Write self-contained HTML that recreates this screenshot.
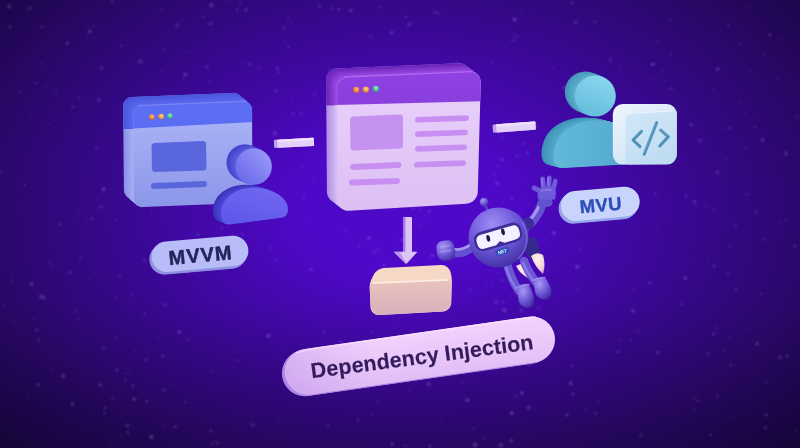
<!DOCTYPE html><html><head><meta charset="utf-8"><style>
html,body{margin:0;padding:0;width:800px;height:448px;overflow:hidden;background:#2a0c78}
svg{display:block}
text{font-family:"Liberation Sans",sans-serif;font-weight:bold}
</style></head><body>
<svg width="800" height="448" viewBox="0 0 800 448">
<defs>
<radialGradient id="bg" cx="402" cy="208" r="357.5" gradientUnits="userSpaceOnUse" gradientTransform="translate(402 208) scale(1.517 1) translate(-402 -208)">
<stop offset="0" stop-color="#4e08c8"/>
<stop offset="0.185" stop-color="#4e08c8"/>
<stop offset="0.3" stop-color="#4708b5"/>
<stop offset="0.45" stop-color="#3d089c"/>
<stop offset="0.6" stop-color="#330884"/>
<stop offset="0.75" stop-color="#2a086b"/>
<stop offset="0.9" stop-color="#200652"/>
<stop offset="1.0" stop-color="#1a0642"/>
</radialGradient>
<linearGradient id="bgB" x1="0" y1="300" x2="0" y2="448" gradientUnits="userSpaceOnUse"><stop offset="0" stop-color="#000" stop-opacity="0"/><stop offset="1" stop-color="#000" stop-opacity="0.177"/></linearGradient>
<filter id="blur1" x="-50%" y="-50%" width="200%" height="200%"><feGaussianBlur stdDeviation="0.8"/></filter>
<filter id="gblur" x="0" y="0" width="100%" height="100%" color-interpolation-filters="sRGB"><feGaussianBlur stdDeviation="0.5"/></filter>
<filter id="b04" x="-20%" y="-20%" width="140%" height="140%"><feGaussianBlur stdDeviation="0.4"/></filter>
<linearGradient id="lwBody" x1="0" y1="0" x2="0" y2="1"><stop offset="0.2" stop-color="#a8b0f6"/><stop offset="1" stop-color="#8c96e8"/></linearGradient>
<linearGradient id="lwHead" x1="0" y1="0" x2="0" y2="1"><stop offset="0" stop-color="#5c6ef4"/><stop offset="1" stop-color="#586af0"/></linearGradient>
<linearGradient id="mwBody" x1="0" y1="0" x2="0" y2="1"><stop offset="0" stop-color="#ead2fb"/><stop offset="1" stop-color="#dcbff4"/></linearGradient>
<linearGradient id="mwHead" x1="0" y1="0" x2="0" y2="1"><stop offset="0" stop-color="#8e42e2"/><stop offset="1" stop-color="#7a30d0"/></linearGradient>
<linearGradient id="box" x1="0" y1="0" x2="0" y2="1"><stop offset="0" stop-color="#e8c4bc"/><stop offset="1" stop-color="#d8b0bc"/></linearGradient>
<linearGradient id="code" x1="0" y1="0" x2="0.6" y2="1"><stop offset="0" stop-color="#d4e8f8"/><stop offset="1" stop-color="#bedcf2"/></linearGradient><linearGradient id="codeO" x1="0" y1="0" x2="0.8" y2="1"><stop offset="0" stop-color="#eef6fd"/><stop offset="0.5" stop-color="#dceaf8"/><stop offset="1" stop-color="#c8ddf2"/></linearGradient>
<linearGradient id="bhead" x1="1" y1="0" x2="0" y2="1"><stop offset="0" stop-color="#a0a0fa"/><stop offset="0.5" stop-color="#8080f2"/><stop offset="1" stop-color="#6462e6"/></linearGradient>
<linearGradient id="bbody" x1="0.8" y1="0" x2="0.2" y2="1"><stop offset="0" stop-color="#7068f2"/><stop offset="1" stop-color="#5e56ea"/></linearGradient>
<linearGradient id="thead" x1="0.7" y1="0" x2="0.3" y2="1"><stop offset="0" stop-color="#8ad6ee"/><stop offset="1" stop-color="#64bcdc"/></linearGradient>
<linearGradient id="tbody" x1="0" y1="0" x2="1" y2="0"><stop offset="0" stop-color="#62b8d8"/><stop offset="0.6" stop-color="#58aed2"/><stop offset="1" stop-color="#4a98c0"/></linearGradient>
<linearGradient id="di" x1="0" y1="0" x2="0" y2="1"><stop offset="0" stop-color="#f2d2fe"/><stop offset="1" stop-color="#e2bef7"/></linearGradient><linearGradient id="diH" x1="0" y1="0" x2="1" y2="0"><stop offset="0" stop-color="#a070d8" stop-opacity="0.32"/><stop offset="0.35" stop-color="#b080e0" stop-opacity="0"/><stop offset="1" stop-color="#ffffff" stop-opacity="0.05"/></linearGradient>
<radialGradient id="rhead" cx="0.4" cy="0.28" r="0.8"><stop offset="0" stop-color="#9e8ef4"/><stop offset="0.5" stop-color="#6e58da"/><stop offset="1" stop-color="#3c2a9a"/></radialGradient>
<linearGradient id="limb" x1="0" y1="0" x2="1" y2="0"><stop offset="0" stop-color="#5c48c8"/><stop offset="0.5" stop-color="#9a88ee"/><stop offset="1" stop-color="#5c48c8"/></linearGradient>
<radialGradient id="rball" cx="0.35" cy="0.3" r="0.8"><stop offset="0" stop-color="#a898f4"/><stop offset="0.6" stop-color="#6a54d4"/><stop offset="1" stop-color="#3e2c9a"/></radialGradient>
<radialGradient id="flame" cx="0.5" cy="0.3" r="0.7"><stop offset="0" stop-color="#fff4ee"/><stop offset="0.7" stop-color="#f4d0d8"/><stop offset="1" stop-color="#d8a8e0"/></radialGradient>
<radialGradient id="dotO" cx="0.55" cy="0.35" r="0.7"><stop offset="0" stop-color="#ffc080"/><stop offset="0.6" stop-color="#f0803e"/><stop offset="1" stop-color="#c85030"/></radialGradient>
<radialGradient id="dotY" cx="0.55" cy="0.35" r="0.7"><stop offset="0" stop-color="#ffd890"/><stop offset="0.6" stop-color="#f0a040"/><stop offset="1" stop-color="#c87030"/></radialGradient>
<radialGradient id="dotG" cx="0.55" cy="0.35" r="0.7"><stop offset="0" stop-color="#a0f0d0"/><stop offset="0.6" stop-color="#48c496"/><stop offset="1" stop-color="#2a9070"/></radialGradient>
</defs>
<g filter="url(#gblur)">
<rect x="-10" y="-10" width="820" height="468" fill="url(#bg)"/><rect x="-10" y="-10" width="820" height="468" fill="url(#bgB)"/>
<g filter="url(#blur1)">

<circle cx="259.1" cy="67.6" r="2.1" fill="#a488f0" opacity="0.11"/>
<circle cx="657.0" cy="42.2" r="1.8" fill="#a488f0" opacity="0.11"/>
<circle cx="405.9" cy="16.8" r="1.5" fill="#a488f0" opacity="0.20"/>
<circle cx="192.5" cy="246.9" r="0.9" fill="#a488f0" opacity="0.30"/>
<circle cx="99.0" cy="100.0" r="2.1" fill="#a488f0" opacity="0.24"/>
<circle cx="49.5" cy="262.3" r="0.9" fill="#a488f0" opacity="0.33"/>
<circle cx="37.3" cy="384.6" r="1.3" fill="#a488f0" opacity="0.20"/>
<circle cx="432.5" cy="255.8" r="1.8" fill="#a488f0" opacity="0.30"/>
<circle cx="144.6" cy="260.6" r="2.1" fill="#a488f0" opacity="0.15"/>
<circle cx="77.9" cy="319.0" r="1.8" fill="#a488f0" opacity="0.11"/>
<circle cx="164.8" cy="304.8" r="1.5" fill="#a488f0" opacity="0.29"/>
<circle cx="372.5" cy="413.7" r="1.3" fill="#a488f0" opacity="0.17"/>
<circle cx="635.5" cy="313.1" r="1.1" fill="#a488f0" opacity="0.12"/>
<circle cx="240.2" cy="221.8" r="1.3" fill="#a488f0" opacity="0.28"/>
<circle cx="230.4" cy="439.1" r="0.9" fill="#a488f0" opacity="0.22"/>
<circle cx="132.0" cy="153.2" r="1.5" fill="#a488f0" opacity="0.20"/>
<circle cx="769.6" cy="34.8" r="1.8" fill="#a488f0" opacity="0.24"/>
<circle cx="700.4" cy="140.6" r="2.1" fill="#a488f0" opacity="0.18"/>
<circle cx="397.3" cy="357.0" r="0.9" fill="#a488f0" opacity="0.30"/>
<circle cx="755.7" cy="212.4" r="2.1" fill="#a488f0" opacity="0.12"/>
<circle cx="584.9" cy="138.7" r="1.8" fill="#a488f0" opacity="0.34"/>
<circle cx="657.5" cy="127.5" r="1.5" fill="#a488f0" opacity="0.31"/>
<circle cx="277.6" cy="421.4" r="1.3" fill="#a488f0" opacity="0.14"/>
<circle cx="93.7" cy="26.4" r="1.3" fill="#a488f0" opacity="0.13"/>
<circle cx="198.1" cy="175.1" r="1.5" fill="#a488f0" opacity="0.12"/>
<circle cx="359.3" cy="246.1" r="1.1" fill="#a488f0" opacity="0.30"/>
<circle cx="691.2" cy="124.7" r="1.5" fill="#a488f0" opacity="0.34"/>
<circle cx="546.2" cy="170.4" r="1.1" fill="#a488f0" opacity="0.14"/>
<circle cx="141.0" cy="103.9" r="1.1" fill="#a488f0" opacity="0.10"/>
<circle cx="664.9" cy="81.7" r="1.3" fill="#a488f0" opacity="0.10"/>
<circle cx="335.2" cy="165.4" r="1.8" fill="#a488f0" opacity="0.18"/>
<circle cx="100.4" cy="384.9" r="1.8" fill="#a488f0" opacity="0.26"/>
<circle cx="591.8" cy="204.6" r="2.1" fill="#a488f0" opacity="0.29"/>
<circle cx="313.9" cy="178.7" r="0.9" fill="#a488f0" opacity="0.22"/>
<circle cx="320.4" cy="85.4" r="1.1" fill="#a488f0" opacity="0.21"/>
<circle cx="87.9" cy="269.1" r="0.9" fill="#a488f0" opacity="0.10"/>
<circle cx="121.0" cy="45.5" r="1.3" fill="#a488f0" opacity="0.25"/>
<circle cx="56.3" cy="93.2" r="1.5" fill="#a488f0" opacity="0.14"/>
<circle cx="201.8" cy="155.6" r="1.3" fill="#a488f0" opacity="0.21"/>
<circle cx="92.3" cy="218.7" r="1.5" fill="#a488f0" opacity="0.22"/>
<circle cx="249.5" cy="64.6" r="2.1" fill="#a488f0" opacity="0.18"/>
<circle cx="211.8" cy="371.3" r="1.1" fill="#a488f0" opacity="0.22"/>
<circle cx="164.2" cy="426.5" r="1.3" fill="#a488f0" opacity="0.14"/>
<circle cx="434.5" cy="12.1" r="1.8" fill="#a488f0" opacity="0.17"/>
<circle cx="514.3" cy="40.8" r="1.3" fill="#a488f0" opacity="0.22"/>
<circle cx="726.6" cy="159.4" r="1.1" fill="#a488f0" opacity="0.23"/>
<circle cx="623.2" cy="147.7" r="1.1" fill="#a488f0" opacity="0.25"/>
<circle cx="630.7" cy="339.7" r="1.1" fill="#a488f0" opacity="0.29"/>
<circle cx="654.7" cy="331.5" r="1.1" fill="#a488f0" opacity="0.15"/>
<circle cx="394.2" cy="327.5" r="0.9" fill="#a488f0" opacity="0.29"/>
<circle cx="377.8" cy="86.8" r="1.8" fill="#a488f0" opacity="0.33"/>
<circle cx="357.8" cy="419.8" r="1.3" fill="#a488f0" opacity="0.33"/>
<circle cx="291.7" cy="98.8" r="1.1" fill="#a488f0" opacity="0.21"/>
<circle cx="270.2" cy="216.2" r="1.8" fill="#a488f0" opacity="0.30"/>
<circle cx="383.6" cy="292.5" r="2.1" fill="#a488f0" opacity="0.12"/>
<circle cx="528.5" cy="407.6" r="2.1" fill="#a488f0" opacity="0.28"/>
<circle cx="382.4" cy="80.0" r="2.1" fill="#a488f0" opacity="0.18"/>
<circle cx="640.7" cy="435.3" r="1.5" fill="#a488f0" opacity="0.21"/>
<circle cx="594.7" cy="38.0" r="1.1" fill="#a488f0" opacity="0.14"/>
<circle cx="101.6" cy="67.7" r="1.5" fill="#a488f0" opacity="0.29"/>
<circle cx="116.9" cy="370.3" r="1.5" fill="#a488f0" opacity="0.26"/>
<circle cx="280.3" cy="245.8" r="1.1" fill="#a488f0" opacity="0.11"/>
<circle cx="639.5" cy="325.4" r="0.9" fill="#a488f0" opacity="0.23"/>
<circle cx="746.9" cy="194.3" r="1.1" fill="#a488f0" opacity="0.30"/>
<circle cx="168.8" cy="112.8" r="1.3" fill="#a488f0" opacity="0.22"/>
<circle cx="610.9" cy="146.0" r="1.8" fill="#a488f0" opacity="0.20"/>
<circle cx="104.9" cy="407.7" r="1.3" fill="#a488f0" opacity="0.32"/>
<circle cx="530.0" cy="365.1" r="1.8" fill="#a488f0" opacity="0.20"/>
<circle cx="734.2" cy="224.7" r="1.8" fill="#a488f0" opacity="0.14"/>
<circle cx="408.4" cy="391.0" r="1.1" fill="#a488f0" opacity="0.25"/>
<circle cx="620.8" cy="67.1" r="1.1" fill="#a488f0" opacity="0.21"/>
<circle cx="580.2" cy="249.3" r="1.3" fill="#a488f0" opacity="0.26"/>
<circle cx="424.6" cy="216.2" r="0.9" fill="#a488f0" opacity="0.31"/>
<circle cx="45.5" cy="85.7" r="0.9" fill="#a488f0" opacity="0.29"/>
<circle cx="406.2" cy="251.7" r="0.9" fill="#a488f0" opacity="0.21"/>
<circle cx="490.0" cy="226.5" r="1.8" fill="#a488f0" opacity="0.15"/>
<circle cx="221.7" cy="227.7" r="1.5" fill="#a488f0" opacity="0.22"/>
<circle cx="198.1" cy="234.4" r="1.3" fill="#a488f0" opacity="0.32"/>
<circle cx="714.2" cy="90.8" r="1.5" fill="#a488f0" opacity="0.13"/>
<circle cx="97.3" cy="198.1" r="0.9" fill="#a488f0" opacity="0.26"/>
<circle cx="342.7" cy="95.3" r="1.3" fill="#a488f0" opacity="0.29"/>
<circle cx="717.6" cy="69.2" r="2.1" fill="#a488f0" opacity="0.25"/>
<circle cx="292.9" cy="113.4" r="1.1" fill="#a488f0" opacity="0.33"/>
<circle cx="175.7" cy="426.7" r="1.5" fill="#a488f0" opacity="0.31"/>
<circle cx="130.2" cy="299.2" r="1.1" fill="#a488f0" opacity="0.14"/>
<circle cx="345.2" cy="231.0" r="1.3" fill="#a488f0" opacity="0.20"/>
<circle cx="285.3" cy="41.3" r="1.3" fill="#a488f0" opacity="0.10"/>
<circle cx="443.2" cy="197.3" r="0.9" fill="#a488f0" opacity="0.19"/>
<circle cx="413.9" cy="132.4" r="0.9" fill="#a488f0" opacity="0.13"/>
<circle cx="734.8" cy="102.4" r="0.9" fill="#a488f0" opacity="0.12"/>
<circle cx="217.5" cy="405.8" r="1.1" fill="#a488f0" opacity="0.16"/>
<circle cx="103.6" cy="189.2" r="2.1" fill="#a488f0" opacity="0.30"/>
<circle cx="206.9" cy="66.9" r="1.8" fill="#a488f0" opacity="0.24"/>
<circle cx="560.3" cy="40.1" r="0.9" fill="#a488f0" opacity="0.29"/>
<circle cx="146.7" cy="401.1" r="1.3" fill="#a488f0" opacity="0.33"/>
<circle cx="507.6" cy="359.1" r="0.9" fill="#a488f0" opacity="0.25"/>
<circle cx="177.9" cy="118.5" r="0.9" fill="#a488f0" opacity="0.21"/>
<circle cx="271.3" cy="247.8" r="1.3" fill="#a488f0" opacity="0.25"/>
<circle cx="34.6" cy="317.9" r="0.9" fill="#a488f0" opacity="0.33"/>
<circle cx="209.5" cy="81.2" r="1.3" fill="#a488f0" opacity="0.25"/>
<circle cx="424.9" cy="92.2" r="1.5" fill="#a488f0" opacity="0.22"/>
<circle cx="142.3" cy="155.5" r="0.9" fill="#a488f0" opacity="0.34"/>
<circle cx="29.6" cy="8.3" r="1.8" fill="#a488f0" opacity="0.23"/>
<circle cx="151.6" cy="212.7" r="1.5" fill="#a488f0" opacity="0.13"/>
<circle cx="655.1" cy="193.6" r="1.5" fill="#a488f0" opacity="0.23"/>
<circle cx="711.0" cy="434.7" r="1.3" fill="#a488f0" opacity="0.27"/>
<circle cx="786.0" cy="153.5" r="2.1" fill="#a488f0" opacity="0.27"/>
<circle cx="111.8" cy="443.3" r="0.9" fill="#a488f0" opacity="0.30"/>
<circle cx="11.4" cy="280.2" r="1.3" fill="#a488f0" opacity="0.20"/>
<circle cx="44.3" cy="298.0" r="1.5" fill="#a488f0" opacity="0.31"/>
<circle cx="536.4" cy="126.3" r="1.1" fill="#a488f0" opacity="0.27"/>
<circle cx="36.2" cy="83.0" r="1.3" fill="#a488f0" opacity="0.21"/>
<circle cx="210.6" cy="430.9" r="1.8" fill="#a488f0" opacity="0.18"/>
<circle cx="27.6" cy="395.3" r="1.1" fill="#a488f0" opacity="0.19"/>
<circle cx="0.9" cy="171.0" r="1.5" fill="#a488f0" opacity="0.17"/>
<circle cx="524.8" cy="111.2" r="0.9" fill="#a488f0" opacity="0.12"/>
<circle cx="653.6" cy="64.5" r="1.8" fill="#a488f0" opacity="0.11"/>
<circle cx="18.0" cy="136.3" r="1.1" fill="#a488f0" opacity="0.12"/>
<circle cx="766.1" cy="382.3" r="1.1" fill="#a488f0" opacity="0.26"/>
<circle cx="572.8" cy="393.8" r="1.5" fill="#a488f0" opacity="0.28"/>
<circle cx="576.5" cy="221.4" r="1.3" fill="#a488f0" opacity="0.27"/>
<circle cx="514.6" cy="19.6" r="2.1" fill="#a488f0" opacity="0.31"/>
<circle cx="501.9" cy="328.8" r="1.8" fill="#a488f0" opacity="0.13"/>
<circle cx="419.0" cy="226.0" r="0.9" fill="#a488f0" opacity="0.30"/>
<circle cx="467.2" cy="400.0" r="2.1" fill="#a488f0" opacity="0.33"/>
<circle cx="514.3" cy="38.1" r="0.9" fill="#a488f0" opacity="0.13"/>
<circle cx="288.6" cy="47.0" r="1.5" fill="#a488f0" opacity="0.23"/>
<circle cx="502.2" cy="280.5" r="2.1" fill="#a488f0" opacity="0.16"/>
<circle cx="211.0" cy="204.7" r="0.9" fill="#a488f0" opacity="0.28"/>
<circle cx="402.4" cy="239.8" r="2.1" fill="#a488f0" opacity="0.23"/>
<circle cx="596.6" cy="212.3" r="0.9" fill="#a488f0" opacity="0.30"/>
<circle cx="187.8" cy="338.9" r="1.1" fill="#a488f0" opacity="0.28"/>
<circle cx="780.6" cy="221.3" r="1.5" fill="#a488f0" opacity="0.12"/>
<circle cx="728.4" cy="128.7" r="0.9" fill="#a488f0" opacity="0.25"/>
<circle cx="514.2" cy="34.7" r="1.1" fill="#a488f0" opacity="0.18"/>
<circle cx="521.2" cy="310.4" r="1.8" fill="#a488f0" opacity="0.24"/>
<circle cx="10.0" cy="27.2" r="1.3" fill="#a488f0" opacity="0.33"/>
<circle cx="79.6" cy="97.5" r="1.5" fill="#a488f0" opacity="0.17"/>
<circle cx="413.2" cy="208.2" r="1.5" fill="#a488f0" opacity="0.28"/>
<circle cx="794.6" cy="246.0" r="1.3" fill="#a488f0" opacity="0.33"/>
<circle cx="749.0" cy="7.8" r="1.5" fill="#a488f0" opacity="0.12"/>
<circle cx="405.3" cy="445.6" r="1.3" fill="#a488f0" opacity="0.19"/>
<circle cx="733.2" cy="416.9" r="0.9" fill="#a488f0" opacity="0.24"/>
<circle cx="113.4" cy="234.8" r="1.3" fill="#a488f0" opacity="0.13"/>
<circle cx="656.2" cy="227.9" r="0.9" fill="#a488f0" opacity="0.27"/>
<circle cx="185.1" cy="402.2" r="1.5" fill="#a488f0" opacity="0.19"/>
<circle cx="127.3" cy="425.6" r="2.1" fill="#a488f0" opacity="0.21"/>
<circle cx="241.6" cy="63.0" r="1.3" fill="#a488f0" opacity="0.19"/>
<circle cx="96.7" cy="148.4" r="1.3" fill="#a488f0" opacity="0.28"/>
<circle cx="671.3" cy="53.8" r="1.1" fill="#a488f0" opacity="0.27"/>
<circle cx="721.3" cy="129.8" r="1.3" fill="#a488f0" opacity="0.12"/>
<circle cx="312.1" cy="389.7" r="0.9" fill="#a488f0" opacity="0.19"/>
<circle cx="342.4" cy="123.3" r="0.9" fill="#a488f0" opacity="0.17"/>
<circle cx="41.3" cy="296.6" r="2.1" fill="#a488f0" opacity="0.32"/>
<circle cx="199.5" cy="119.0" r="1.8" fill="#a488f0" opacity="0.18"/>
<circle cx="618.5" cy="351.7" r="1.5" fill="#a488f0" opacity="0.31"/>
<circle cx="649.6" cy="282.6" r="1.8" fill="#a488f0" opacity="0.23"/>
<circle cx="575.7" cy="22.2" r="2.1" fill="#a488f0" opacity="0.20"/>
<circle cx="491.9" cy="62.1" r="1.3" fill="#a488f0" opacity="0.22"/>
<circle cx="729.5" cy="246.4" r="1.1" fill="#a488f0" opacity="0.21"/>
<circle cx="274.9" cy="133.4" r="2.1" fill="#a488f0" opacity="0.28"/>
<circle cx="522.3" cy="182.0" r="1.1" fill="#a488f0" opacity="0.17"/>
<circle cx="445.9" cy="176.7" r="1.1" fill="#a488f0" opacity="0.25"/>
<circle cx="60.1" cy="224.3" r="1.5" fill="#a488f0" opacity="0.23"/>
<circle cx="362.4" cy="149.1" r="1.5" fill="#a488f0" opacity="0.20"/>
<circle cx="438.2" cy="109.4" r="1.1" fill="#a488f0" opacity="0.18"/>
<circle cx="72.9" cy="107.1" r="1.3" fill="#a488f0" opacity="0.29"/>
<circle cx="161.7" cy="9.0" r="1.5" fill="#a488f0" opacity="0.19"/>
<circle cx="596.7" cy="94.1" r="1.3" fill="#a488f0" opacity="0.18"/>
<circle cx="49.6" cy="124.3" r="1.3" fill="#a488f0" opacity="0.13"/>
<circle cx="402.7" cy="282.1" r="1.1" fill="#a488f0" opacity="0.12"/>
<circle cx="717.4" cy="172.3" r="2.1" fill="#a488f0" opacity="0.21"/>
<circle cx="763.2" cy="380.2" r="0.9" fill="#a488f0" opacity="0.13"/>
<circle cx="340.2" cy="342.1" r="1.5" fill="#a488f0" opacity="0.33"/>
<circle cx="391.9" cy="32.8" r="1.8" fill="#a488f0" opacity="0.31"/>
<circle cx="777.8" cy="111.3" r="0.9" fill="#a488f0" opacity="0.15"/>
<circle cx="121.7" cy="435.4" r="0.9" fill="#a488f0" opacity="0.33"/>
<circle cx="577.4" cy="290.0" r="1.5" fill="#a488f0" opacity="0.12"/>
<circle cx="621.5" cy="0.6" r="1.1" fill="#a488f0" opacity="0.16"/>
<circle cx="735.9" cy="289.2" r="1.3" fill="#a488f0" opacity="0.33"/>
<circle cx="501.2" cy="236.7" r="1.5" fill="#a488f0" opacity="0.27"/>
<circle cx="89.7" cy="31.5" r="1.8" fill="#a488f0" opacity="0.33"/>
<circle cx="153.4" cy="116.9" r="1.8" fill="#a488f0" opacity="0.10"/>
<circle cx="430.0" cy="446.4" r="1.3" fill="#a488f0" opacity="0.33"/>
<circle cx="515.7" cy="395.9" r="1.5" fill="#a488f0" opacity="0.23"/>
<circle cx="437.6" cy="13.1" r="1.5" fill="#a488f0" opacity="0.27"/>
<circle cx="245.9" cy="9.8" r="1.5" fill="#a488f0" opacity="0.31"/>
<circle cx="517.7" cy="36.3" r="1.1" fill="#a488f0" opacity="0.26"/>
<circle cx="740.1" cy="101.6" r="0.9" fill="#a488f0" opacity="0.27"/>
<circle cx="574.7" cy="162.3" r="1.5" fill="#a488f0" opacity="0.15"/>
<circle cx="637.7" cy="331.1" r="1.8" fill="#a488f0" opacity="0.12"/>
<circle cx="396.6" cy="89.8" r="1.1" fill="#a488f0" opacity="0.16"/>
<circle cx="177.2" cy="340.7" r="1.3" fill="#a488f0" opacity="0.13"/>
<circle cx="498.9" cy="273.3" r="1.1" fill="#a488f0" opacity="0.22"/>
<circle cx="728.3" cy="25.3" r="1.8" fill="#a488f0" opacity="0.14"/>
<circle cx="314.8" cy="95.4" r="1.8" fill="#a488f0" opacity="0.13"/>
<circle cx="41.5" cy="26.9" r="1.5" fill="#a488f0" opacity="0.21"/>
<circle cx="569.6" cy="140.8" r="0.9" fill="#a488f0" opacity="0.34"/>
<circle cx="745.3" cy="147.5" r="1.1" fill="#a488f0" opacity="0.26"/>
<circle cx="419.8" cy="209.5" r="1.3" fill="#a488f0" opacity="0.26"/>
<circle cx="302.9" cy="167.5" r="1.3" fill="#a488f0" opacity="0.21"/>
<circle cx="87.2" cy="35.1" r="0.9" fill="#a488f0" opacity="0.18"/>
<circle cx="764.4" cy="55.4" r="1.1" fill="#a488f0" opacity="0.19"/>
<circle cx="615.0" cy="138.3" r="1.5" fill="#a488f0" opacity="0.12"/>
<circle cx="564.2" cy="87.7" r="1.8" fill="#a488f0" opacity="0.32"/>
<circle cx="154.4" cy="163.2" r="1.5" fill="#a488f0" opacity="0.11"/>
<circle cx="328.6" cy="363.7" r="1.5" fill="#a488f0" opacity="0.11"/>
<circle cx="27.9" cy="28.0" r="0.9" fill="#a488f0" opacity="0.16"/>
<circle cx="597.8" cy="402.6" r="1.3" fill="#a488f0" opacity="0.19"/>
<circle cx="268.0" cy="427.3" r="0.9" fill="#a488f0" opacity="0.16"/>
<circle cx="573.3" cy="141.8" r="1.3" fill="#a488f0" opacity="0.17"/>
<circle cx="577.3" cy="266.8" r="2.1" fill="#a488f0" opacity="0.33"/>
<circle cx="52.3" cy="370.1" r="0.9" fill="#a488f0" opacity="0.21"/>
<circle cx="765.4" cy="427.4" r="1.5" fill="#a488f0" opacity="0.29"/>
<circle cx="730.8" cy="365.0" r="1.1" fill="#a488f0" opacity="0.32"/>
<circle cx="146.4" cy="359.6" r="2.1" fill="#a488f0" opacity="0.17"/>
<circle cx="553.7" cy="67.8" r="1.1" fill="#a488f0" opacity="0.18"/>
<circle cx="255.6" cy="162.1" r="1.8" fill="#a488f0" opacity="0.12"/>
<circle cx="157.8" cy="337.3" r="1.1" fill="#a488f0" opacity="0.20"/>
<circle cx="519.6" cy="215.8" r="1.8" fill="#a488f0" opacity="0.18"/>
<circle cx="784.2" cy="395.8" r="0.9" fill="#a488f0" opacity="0.16"/>
<circle cx="67.3" cy="43.2" r="1.5" fill="#a488f0" opacity="0.34"/>
<circle cx="777.7" cy="77.6" r="1.1" fill="#a488f0" opacity="0.20"/>
<circle cx="496.2" cy="302.0" r="2.1" fill="#a488f0" opacity="0.23"/>
<circle cx="619.1" cy="340.3" r="1.3" fill="#a488f0" opacity="0.17"/>
<circle cx="453.5" cy="167.1" r="2.1" fill="#a488f0" opacity="0.16"/>
<circle cx="351.5" cy="83.2" r="1.1" fill="#a488f0" opacity="0.14"/>
<circle cx="707.3" cy="259.1" r="1.3" fill="#a488f0" opacity="0.12"/>
<circle cx="201.3" cy="110.2" r="1.8" fill="#a488f0" opacity="0.16"/>
<circle cx="646.8" cy="292.7" r="0.9" fill="#a488f0" opacity="0.12"/>
<circle cx="379.8" cy="367.0" r="1.5" fill="#a488f0" opacity="0.32"/>
<circle cx="32.3" cy="131.6" r="0.9" fill="#a488f0" opacity="0.11"/>
<circle cx="480.4" cy="370.9" r="1.1" fill="#a488f0" opacity="0.32"/>
<circle cx="297.8" cy="388.0" r="1.5" fill="#a488f0" opacity="0.24"/>
<circle cx="620.0" cy="297.8" r="0.9" fill="#a488f0" opacity="0.13"/>
<circle cx="476.9" cy="277.7" r="1.1" fill="#a488f0" opacity="0.11"/>
<circle cx="272.0" cy="19.8" r="1.3" fill="#a488f0" opacity="0.11"/>
<circle cx="585.8" cy="409.5" r="0.9" fill="#a488f0" opacity="0.30"/>
<circle cx="327.2" cy="166.6" r="1.8" fill="#a488f0" opacity="0.17"/>
<circle cx="162.7" cy="356.3" r="1.8" fill="#a488f0" opacity="0.22"/>
<circle cx="326.5" cy="356.5" r="2.1" fill="#a488f0" opacity="0.23"/>
<circle cx="511.3" cy="40.8" r="1.1" fill="#a488f0" opacity="0.20"/>
<circle cx="216.9" cy="442.7" r="2.1" fill="#a488f0" opacity="0.17"/>
<circle cx="762.6" cy="139.9" r="1.8" fill="#a488f0" opacity="0.31"/>
<circle cx="331.3" cy="8.2" r="1.3" fill="#a488f0" opacity="0.25"/>
<circle cx="312.6" cy="181.4" r="0.9" fill="#a488f0" opacity="0.20"/>
<circle cx="125.3" cy="50.9" r="0.9" fill="#a488f0" opacity="0.20"/>
<circle cx="706.3" cy="206.5" r="1.1" fill="#a488f0" opacity="0.13"/>
<circle cx="41.4" cy="63.8" r="1.5" fill="#a488f0" opacity="0.12"/>
<circle cx="497.8" cy="166.1" r="1.8" fill="#a488f0" opacity="0.14"/>
<circle cx="278.4" cy="72.5" r="1.1" fill="#a488f0" opacity="0.32"/>
<circle cx="87.0" cy="219.7" r="1.1" fill="#a488f0" opacity="0.17"/>
<circle cx="669.8" cy="19.5" r="1.5" fill="#a488f0" opacity="0.18"/>
<circle cx="486.1" cy="285.1" r="0.9" fill="#a488f0" opacity="0.32"/>
<circle cx="496.3" cy="369.4" r="1.1" fill="#a488f0" opacity="0.25"/>
<circle cx="685.3" cy="278.2" r="1.8" fill="#a488f0" opacity="0.30"/>
<circle cx="663.4" cy="82.0" r="1.1" fill="#a488f0" opacity="0.11"/>
<circle cx="750.8" cy="70.1" r="1.3" fill="#a488f0" opacity="0.13"/>
<circle cx="197.6" cy="324.7" r="1.1" fill="#a488f0" opacity="0.11"/>
<circle cx="449.9" cy="339.3" r="0.9" fill="#a488f0" opacity="0.26"/>
<circle cx="259.4" cy="174.6" r="1.5" fill="#a488f0" opacity="0.23"/>
<circle cx="501.6" cy="137.2" r="1.5" fill="#a488f0" opacity="0.17"/>
<circle cx="199.4" cy="174.4" r="1.3" fill="#a488f0" opacity="0.21"/>
<circle cx="350.7" cy="10.5" r="1.8" fill="#a488f0" opacity="0.34"/>
<circle cx="372.2" cy="200.2" r="1.8" fill="#a488f0" opacity="0.29"/>
<circle cx="366.6" cy="80.4" r="1.5" fill="#a488f0" opacity="0.20"/>
<circle cx="53.7" cy="160.6" r="1.3" fill="#a488f0" opacity="0.12"/>
<circle cx="353.6" cy="228.6" r="0.9" fill="#a488f0" opacity="0.11"/>
<circle cx="104.2" cy="413.1" r="1.3" fill="#a488f0" opacity="0.29"/>
<circle cx="409.2" cy="24.3" r="1.8" fill="#a488f0" opacity="0.31"/>
<circle cx="522.2" cy="351.3" r="0.9" fill="#a488f0" opacity="0.31"/>
<circle cx="796.9" cy="328.0" r="0.9" fill="#a488f0" opacity="0.15"/>
<circle cx="785.4" cy="220.4" r="1.1" fill="#a488f0" opacity="0.26"/>
<circle cx="576.9" cy="99.1" r="1.3" fill="#a488f0" opacity="0.25"/>
<circle cx="201.8" cy="145.1" r="1.8" fill="#a488f0" opacity="0.17"/>
<circle cx="652.5" cy="64.3" r="1.8" fill="#a488f0" opacity="0.33"/>
<circle cx="384.1" cy="265.2" r="1.8" fill="#a488f0" opacity="0.22"/>
<circle cx="255.3" cy="16.5" r="1.1" fill="#a488f0" opacity="0.20"/>
<circle cx="509.3" cy="124.6" r="1.3" fill="#a488f0" opacity="0.31"/>
<circle cx="135.0" cy="351.6" r="0.9" fill="#a488f0" opacity="0.28"/>
<circle cx="38.9" cy="384.5" r="1.5" fill="#a488f0" opacity="0.23"/>
<circle cx="464.0" cy="395.4" r="0.9" fill="#a488f0" opacity="0.16"/>
<circle cx="428.6" cy="383.8" r="2.1" fill="#a488f0" opacity="0.29"/>
<circle cx="211.8" cy="443.7" r="1.8" fill="#a488f0" opacity="0.14"/>
<circle cx="264.7" cy="36.5" r="1.1" fill="#a488f0" opacity="0.14"/>
<circle cx="594.9" cy="21.6" r="1.8" fill="#a488f0" opacity="0.16"/>
<circle cx="511.4" cy="440.9" r="1.8" fill="#a488f0" opacity="0.32"/>
<circle cx="716.6" cy="328.4" r="2.1" fill="#a488f0" opacity="0.11"/>
<circle cx="119.5" cy="276.0" r="1.5" fill="#a488f0" opacity="0.20"/>
<circle cx="291.3" cy="21.4" r="1.5" fill="#a488f0" opacity="0.15"/>
<circle cx="522.5" cy="10.0" r="0.9" fill="#a488f0" opacity="0.24"/>
<circle cx="243.0" cy="234.3" r="1.8" fill="#a488f0" opacity="0.15"/>
<circle cx="466.9" cy="263.9" r="1.1" fill="#a488f0" opacity="0.19"/>
<circle cx="662.8" cy="71.1" r="0.9" fill="#a488f0" opacity="0.32"/>
<circle cx="194.9" cy="66.9" r="0.9" fill="#a488f0" opacity="0.12"/>
<circle cx="115.8" cy="298.1" r="1.3" fill="#a488f0" opacity="0.20"/>
<circle cx="211.4" cy="5.2" r="2.1" fill="#a488f0" opacity="0.30"/>
<circle cx="714.1" cy="266.4" r="1.8" fill="#a488f0" opacity="0.21"/>
<circle cx="749.7" cy="328.6" r="1.1" fill="#a488f0" opacity="0.14"/>
<circle cx="0.3" cy="27.6" r="0.9" fill="#a488f0" opacity="0.20"/>
<circle cx="190.1" cy="26.2" r="0.9" fill="#a488f0" opacity="0.10"/>
<circle cx="440.7" cy="421.5" r="1.1" fill="#a488f0" opacity="0.20"/>
<circle cx="414.6" cy="287.9" r="2.1" fill="#a488f0" opacity="0.25"/>
<circle cx="650.7" cy="78.2" r="1.3" fill="#a488f0" opacity="0.12"/>
<circle cx="500.8" cy="445.3" r="2.1" fill="#a488f0" opacity="0.29"/>
<circle cx="572.3" cy="2.8" r="1.5" fill="#a488f0" opacity="0.28"/>
<circle cx="372.2" cy="332.3" r="1.5" fill="#a488f0" opacity="0.14"/>
<circle cx="797.3" cy="117.1" r="2.1" fill="#a488f0" opacity="0.11"/>
<circle cx="268.4" cy="335.8" r="2.1" fill="#a488f0" opacity="0.33"/>
<circle cx="210.6" cy="23.5" r="2.1" fill="#a488f0" opacity="0.23"/>
<circle cx="348.8" cy="353.2" r="1.8" fill="#a488f0" opacity="0.33"/>
<circle cx="236.5" cy="416.0" r="1.1" fill="#a488f0" opacity="0.12"/>
<circle cx="405.9" cy="76.1" r="1.1" fill="#a488f0" opacity="0.30"/>
<circle cx="162.2" cy="71.3" r="1.3" fill="#a488f0" opacity="0.15"/>
<circle cx="311.0" cy="269.4" r="1.5" fill="#a488f0" opacity="0.32"/>
<circle cx="504.6" cy="310.4" r="2.1" fill="#a488f0" opacity="0.30"/>
<circle cx="429.1" cy="211.5" r="1.8" fill="#a488f0" opacity="0.27"/>
<circle cx="686.0" cy="195.9" r="2.1" fill="#a488f0" opacity="0.16"/>
<circle cx="707.8" cy="353.6" r="1.5" fill="#a488f0" opacity="0.25"/>
<circle cx="62.2" cy="408.0" r="1.1" fill="#a488f0" opacity="0.11"/>
<circle cx="89.5" cy="278.6" r="1.1" fill="#a488f0" opacity="0.18"/>
<circle cx="113.5" cy="12.9" r="0.9" fill="#a488f0" opacity="0.13"/>
<circle cx="514.8" cy="19.1" r="0.9" fill="#a488f0" opacity="0.28"/>
<circle cx="52.6" cy="264.5" r="1.3" fill="#a488f0" opacity="0.15"/>
<circle cx="763.7" cy="239.2" r="2.1" fill="#a488f0" opacity="0.12"/>
<circle cx="694.2" cy="409.7" r="1.5" fill="#a488f0" opacity="0.13"/>
<circle cx="164.6" cy="50.2" r="0.9" fill="#a488f0" opacity="0.33"/>
<circle cx="728.9" cy="337.7" r="0.9" fill="#a488f0" opacity="0.30"/>
<circle cx="505.2" cy="128.7" r="0.9" fill="#a488f0" opacity="0.13"/>
<circle cx="633.6" cy="289.6" r="1.3" fill="#a488f0" opacity="0.18"/>
<circle cx="339.0" cy="9.4" r="1.3" fill="#a488f0" opacity="0.32"/>
<circle cx="38.7" cy="340.4" r="1.3" fill="#a488f0" opacity="0.28"/>
<circle cx="481.6" cy="213.3" r="1.3" fill="#a488f0" opacity="0.25"/>
<circle cx="24.8" cy="185.0" r="1.5" fill="#a488f0" opacity="0.22"/>
<circle cx="78.6" cy="210.1" r="0.9" fill="#a488f0" opacity="0.23"/>
<circle cx="173.3" cy="386.3" r="0.9" fill="#a488f0" opacity="0.24"/>
<circle cx="229.7" cy="195.4" r="1.8" fill="#a488f0" opacity="0.15"/>
<circle cx="609.7" cy="438.1" r="0.9" fill="#a488f0" opacity="0.18"/>
<circle cx="76.6" cy="311.5" r="1.1" fill="#a488f0" opacity="0.33"/>
<circle cx="474.0" cy="428.8" r="1.8" fill="#a488f0" opacity="0.16"/>
<circle cx="755.1" cy="127.1" r="1.1" fill="#a488f0" opacity="0.33"/>
<circle cx="185.2" cy="74.3" r="2.1" fill="#a488f0" opacity="0.28"/>
<circle cx="392.2" cy="444.0" r="1.8" fill="#a488f0" opacity="0.29"/>
<circle cx="502.3" cy="159.3" r="1.5" fill="#a488f0" opacity="0.32"/>
<circle cx="713.5" cy="333.9" r="1.5" fill="#a488f0" opacity="0.31"/>
<circle cx="20.1" cy="92.3" r="1.3" fill="#a488f0" opacity="0.20"/>
<circle cx="435.9" cy="76.7" r="2.1" fill="#a488f0" opacity="0.16"/>
<circle cx="368.7" cy="238.1" r="2.1" fill="#a488f0" opacity="0.28"/>
<circle cx="517.0" cy="156.1" r="1.3" fill="#a488f0" opacity="0.23"/>
<circle cx="694.4" cy="201.7" r="1.8" fill="#a488f0" opacity="0.28"/>
<circle cx="135.6" cy="196.6" r="1.3" fill="#a488f0" opacity="0.24"/>
<circle cx="100.8" cy="207.0" r="2.1" fill="#a488f0" opacity="0.16"/>
<circle cx="153.3" cy="135.1" r="2.1" fill="#a488f0" opacity="0.30"/>
<circle cx="493.9" cy="324.1" r="1.1" fill="#a488f0" opacity="0.27"/>
<circle cx="482.3" cy="156.2" r="1.1" fill="#a488f0" opacity="0.18"/>
<circle cx="151.4" cy="436.9" r="2.1" fill="#a488f0" opacity="0.34"/>
<circle cx="131.7" cy="294.7" r="1.1" fill="#a488f0" opacity="0.19"/>
<circle cx="787.1" cy="356.1" r="2.1" fill="#a488f0" opacity="0.17"/>
<circle cx="219.1" cy="49.0" r="0.9" fill="#a488f0" opacity="0.17"/>
<circle cx="708.2" cy="207.8" r="0.9" fill="#a488f0" opacity="0.20"/>
<circle cx="632.8" cy="310.7" r="1.8" fill="#a488f0" opacity="0.34"/>
<circle cx="237.0" cy="9.9" r="1.3" fill="#a488f0" opacity="0.24"/>
<circle cx="323.8" cy="331.9" r="1.5" fill="#a488f0" opacity="0.27"/>
<circle cx="469.9" cy="289.9" r="1.1" fill="#a488f0" opacity="0.26"/>
<circle cx="522.0" cy="393.2" r="2.1" fill="#a488f0" opacity="0.27"/>
<circle cx="682.0" cy="304.5" r="2.1" fill="#a488f0" opacity="0.13"/>
<circle cx="346.0" cy="116.4" r="2.1" fill="#a488f0" opacity="0.12"/>
<circle cx="335.7" cy="350.5" r="2.1" fill="#a488f0" opacity="0.27"/>
<circle cx="125.2" cy="380.5" r="1.5" fill="#a488f0" opacity="0.21"/>
<circle cx="497.3" cy="183.4" r="2.1" fill="#a488f0" opacity="0.26"/>
<circle cx="698.4" cy="400.7" r="1.3" fill="#a488f0" opacity="0.29"/>
<circle cx="311.0" cy="219.4" r="0.9" fill="#a488f0" opacity="0.11"/>
<circle cx="434.7" cy="72.1" r="1.1" fill="#a488f0" opacity="0.22"/>
<circle cx="80.9" cy="257.4" r="1.8" fill="#a488f0" opacity="0.15"/>
<circle cx="380.6" cy="7.2" r="1.3" fill="#a488f0" opacity="0.23"/>
<circle cx="328.3" cy="424.7" r="1.1" fill="#a488f0" opacity="0.34"/>
<circle cx="147.0" cy="230.2" r="0.9" fill="#a488f0" opacity="0.27"/>
<circle cx="491.2" cy="285.6" r="1.3" fill="#a488f0" opacity="0.17"/>
<circle cx="319.7" cy="6.0" r="1.5" fill="#a488f0" opacity="0.32"/>
<circle cx="502.9" cy="302.3" r="1.8" fill="#a488f0" opacity="0.16"/>
<circle cx="179.5" cy="332.2" r="1.8" fill="#a488f0" opacity="0.33"/>
<circle cx="795.4" cy="430.5" r="1.5" fill="#a488f0" opacity="0.15"/>
<circle cx="103.4" cy="347.9" r="2.1" fill="#a488f0" opacity="0.15"/>
<circle cx="513.8" cy="322.9" r="1.1" fill="#a488f0" opacity="0.18"/>
<circle cx="511.0" cy="366.8" r="1.5" fill="#a488f0" opacity="0.21"/>
<circle cx="235.5" cy="245.6" r="1.1" fill="#a488f0" opacity="0.29"/>
<circle cx="375.5" cy="351.0" r="1.1" fill="#a488f0" opacity="0.16"/>
<circle cx="300.9" cy="113.6" r="1.5" fill="#a488f0" opacity="0.26"/>
<circle cx="385.3" cy="360.8" r="1.3" fill="#a488f0" opacity="0.19"/>
<circle cx="523.5" cy="143.5" r="1.5" fill="#a488f0" opacity="0.20"/>
<circle cx="509.8" cy="295.4" r="1.3" fill="#a488f0" opacity="0.14"/>
<circle cx="242.5" cy="172.5" r="0.9" fill="#a488f0" opacity="0.30"/>
<circle cx="724.6" cy="351.2" r="1.1" fill="#a488f0" opacity="0.23"/>
<circle cx="276.1" cy="260.9" r="2.1" fill="#a488f0" opacity="0.10"/>
<circle cx="761.4" cy="293.9" r="1.3" fill="#a488f0" opacity="0.25"/>
<circle cx="462.8" cy="382.7" r="1.1" fill="#a488f0" opacity="0.29"/>
<circle cx="277.2" cy="68.4" r="1.5" fill="#a488f0" opacity="0.29"/>
<circle cx="134.3" cy="399.2" r="1.8" fill="#a488f0" opacity="0.33"/>
<circle cx="72.3" cy="403.9" r="1.8" fill="#a488f0" opacity="0.29"/>
<circle cx="671.0" cy="88.4" r="2.1" fill="#a488f0" opacity="0.15"/>
<circle cx="62.9" cy="376.0" r="2.1" fill="#a488f0" opacity="0.31"/>
<circle cx="444.1" cy="118.5" r="1.1" fill="#a488f0" opacity="0.30"/>
<circle cx="378.6" cy="249.6" r="1.5" fill="#a488f0" opacity="0.21"/>
<circle cx="115.5" cy="220.1" r="1.5" fill="#a488f0" opacity="0.14"/>
<circle cx="479.7" cy="329.1" r="1.1" fill="#a488f0" opacity="0.30"/>
<circle cx="374.4" cy="252.0" r="2.1" fill="#a488f0" opacity="0.17"/>
<circle cx="372.6" cy="190.8" r="2.1" fill="#a488f0" opacity="0.12"/>
<circle cx="509.6" cy="285.0" r="0.9" fill="#a488f0" opacity="0.10"/>
<circle cx="36.7" cy="330.0" r="1.3" fill="#a488f0" opacity="0.29"/>
<circle cx="75.2" cy="216.9" r="1.1" fill="#a488f0" opacity="0.11"/>
<circle cx="574.5" cy="280.1" r="1.3" fill="#a488f0" opacity="0.12"/>
<circle cx="527.2" cy="152.9" r="1.8" fill="#a488f0" opacity="0.23"/>
<circle cx="729.9" cy="127.3" r="1.3" fill="#a488f0" opacity="0.20"/>
<circle cx="443.2" cy="370.4" r="1.3" fill="#a488f0" opacity="0.19"/>
<circle cx="395.0" cy="149.5" r="1.3" fill="#a488f0" opacity="0.31"/>
<circle cx="275.8" cy="91.2" r="1.5" fill="#a488f0" opacity="0.29"/>
<circle cx="264.7" cy="142.1" r="1.3" fill="#a488f0" opacity="0.13"/>
<circle cx="778.2" cy="39.2" r="0.9" fill="#a488f0" opacity="0.20"/>
<circle cx="443.4" cy="181.9" r="1.8" fill="#a488f0" opacity="0.11"/>
<circle cx="240.3" cy="2.8" r="1.1" fill="#a488f0" opacity="0.30"/>
<circle cx="380.0" cy="343.2" r="0.9" fill="#a488f0" opacity="0.29"/>
<circle cx="727.9" cy="274.1" r="1.8" fill="#a488f0" opacity="0.14"/>
<circle cx="539.0" cy="308.7" r="2.1" fill="#a488f0" opacity="0.12"/>
<circle cx="31.6" cy="283.8" r="2.1" fill="#a488f0" opacity="0.28"/>
<circle cx="81.1" cy="81.2" r="0.9" fill="#a488f0" opacity="0.20"/>
<circle cx="80.5" cy="416.9" r="0.9" fill="#a488f0" opacity="0.19"/>
<circle cx="658.1" cy="352.4" r="1.8" fill="#a488f0" opacity="0.27"/>
<circle cx="690.0" cy="82.8" r="0.9" fill="#a488f0" opacity="0.18"/>
<circle cx="344.5" cy="287.5" r="0.9" fill="#a488f0" opacity="0.22"/>
<circle cx="417.7" cy="369.5" r="1.5" fill="#a488f0" opacity="0.24"/>
<circle cx="734.9" cy="200.0" r="0.9" fill="#a488f0" opacity="0.26"/>
<circle cx="475.1" cy="444.9" r="2.1" fill="#a488f0" opacity="0.34"/>
<circle cx="380.4" cy="184.8" r="0.9" fill="#a488f0" opacity="0.12"/>
<circle cx="377.8" cy="401.3" r="2.1" fill="#a488f0" opacity="0.10"/>
<circle cx="3.8" cy="306.3" r="0.9" fill="#a488f0" opacity="0.34"/>
<circle cx="686.8" cy="97.8" r="0.9" fill="#a488f0" opacity="0.13"/>
<circle cx="14.2" cy="322.3" r="1.1" fill="#a488f0" opacity="0.21"/>
<circle cx="595.4" cy="413.4" r="1.3" fill="#a488f0" opacity="0.29"/>
<circle cx="570.8" cy="383.3" r="2.1" fill="#a488f0" opacity="0.28"/>
<circle cx="234.5" cy="249.8" r="1.5" fill="#a488f0" opacity="0.21"/>
<circle cx="745.9" cy="113.8" r="0.9" fill="#a488f0" opacity="0.27"/>
<circle cx="9.1" cy="6.6" r="2.1" fill="#a488f0" opacity="0.26"/>
<circle cx="494.6" cy="174.2" r="1.3" fill="#a488f0" opacity="0.28"/>
<circle cx="132.8" cy="385.7" r="1.5" fill="#a488f0" opacity="0.25"/>
<circle cx="253.0" cy="425.0" r="2.1" fill="#a488f0" opacity="0.21"/>
<circle cx="541.5" cy="64.9" r="0.9" fill="#a488f0" opacity="0.19"/>
<circle cx="515.9" cy="282.1" r="1.5" fill="#a488f0" opacity="0.21"/>
<circle cx="622.5" cy="202.8" r="1.3" fill="#a488f0" opacity="0.29"/>
<circle cx="453.5" cy="131.0" r="0.9" fill="#a488f0" opacity="0.25"/>
<circle cx="520.8" cy="359.3" r="1.8" fill="#a488f0" opacity="0.18"/>
<circle cx="484.7" cy="437.9" r="1.1" fill="#a488f0" opacity="0.24"/>
<circle cx="246.9" cy="192.0" r="1.1" fill="#a488f0" opacity="0.19"/>
<circle cx="547.9" cy="269.6" r="1.1" fill="#a488f0" opacity="0.29"/>
<circle cx="226.6" cy="0.8" r="1.3" fill="#a488f0" opacity="0.16"/>
<circle cx="125.8" cy="412.4" r="0.9" fill="#a488f0" opacity="0.17"/>
<circle cx="112.5" cy="399.0" r="1.8" fill="#a488f0" opacity="0.14"/>
<circle cx="780.3" cy="357.2" r="1.8" fill="#a488f0" opacity="0.26"/>
<circle cx="731.0" cy="155.4" r="0.9" fill="#a488f0" opacity="0.23"/>
<circle cx="387.8" cy="171.0" r="2.1" fill="#a488f0" opacity="0.32"/>
<circle cx="187.2" cy="271.9" r="2.1" fill="#a488f0" opacity="0.19"/>
<circle cx="566.7" cy="414.8" r="1.8" fill="#a488f0" opacity="0.28"/>
<circle cx="633.3" cy="206.0" r="0.9" fill="#a488f0" opacity="0.23"/>
<circle cx="284.1" cy="28.1" r="1.5" fill="#a488f0" opacity="0.24"/>
<circle cx="717.5" cy="396.5" r="1.8" fill="#a488f0" opacity="0.18"/>
<circle cx="404.9" cy="90.4" r="1.1" fill="#a488f0" opacity="0.15"/>
<circle cx="144.6" cy="314.1" r="1.3" fill="#a488f0" opacity="0.24"/>
<circle cx="287.1" cy="349.3" r="1.1" fill="#a488f0" opacity="0.16"/>
<circle cx="738.1" cy="221.0" r="0.9" fill="#a488f0" opacity="0.19"/>
<circle cx="370.7" cy="36.6" r="1.3" fill="#a488f0" opacity="0.24"/>
<circle cx="275.9" cy="232.7" r="0.9" fill="#a488f0" opacity="0.12"/>
<circle cx="163.7" cy="390.1" r="1.8" fill="#a488f0" opacity="0.22"/>
<circle cx="453.7" cy="117.2" r="1.3" fill="#a488f0" opacity="0.20"/>
<circle cx="757.2" cy="343.7" r="1.8" fill="#a488f0" opacity="0.33"/>
<circle cx="203.2" cy="17.0" r="1.1" fill="#a488f0" opacity="0.34"/>
<circle cx="302.6" cy="12.3" r="0.9" fill="#a488f0" opacity="0.23"/>
<circle cx="696.5" cy="205.3" r="0.9" fill="#a488f0" opacity="0.31"/>
<circle cx="511.9" cy="413.1" r="2.1" fill="#a488f0" opacity="0.33"/>
<circle cx="205.8" cy="252.9" r="2.1" fill="#a488f0" opacity="0.12"/>
<circle cx="736.7" cy="226.9" r="1.1" fill="#a488f0" opacity="0.21"/>
<circle cx="127.8" cy="432.7" r="2.1" fill="#a488f0" opacity="0.15"/>
<circle cx="30.9" cy="114.6" r="1.3" fill="#a488f0" opacity="0.11"/>
<circle cx="442.3" cy="12.4" r="0.9" fill="#a488f0" opacity="0.16"/>
<circle cx="410.7" cy="331.3" r="1.5" fill="#a488f0" opacity="0.11"/>
<circle cx="115.8" cy="338.2" r="1.1" fill="#a488f0" opacity="0.26"/>
<circle cx="239.0" cy="265.0" r="2.1" fill="#a488f0" opacity="0.13"/>
<circle cx="259.1" cy="115.1" r="0.9" fill="#a488f0" opacity="0.19"/>
<circle cx="303.7" cy="197.7" r="1.1" fill="#a488f0" opacity="0.32"/>
<circle cx="713.7" cy="209.6" r="1.1" fill="#a488f0" opacity="0.29"/>
<circle cx="125.6" cy="373.1" r="0.9" fill="#a488f0" opacity="0.32"/>
<circle cx="693.4" cy="398.1" r="1.1" fill="#a488f0" opacity="0.29"/>
<circle cx="766.4" cy="414.8" r="1.5" fill="#a488f0" opacity="0.30"/>
<circle cx="502.7" cy="202.6" r="1.3" fill="#a488f0" opacity="0.18"/>
<circle cx="187.1" cy="51.8" r="1.3" fill="#a488f0" opacity="0.13"/>
<circle cx="177.3" cy="25.4" r="2.1" fill="#a488f0" opacity="0.21"/>
<circle cx="711.5" cy="196.7" r="1.1" fill="#a488f0" opacity="0.16"/>
<circle cx="329.4" cy="69.7" r="1.3" fill="#a488f0" opacity="0.24"/>
<circle cx="237.2" cy="360.3" r="1.3" fill="#a488f0" opacity="0.22"/>
<circle cx="254.5" cy="404.6" r="0.9" fill="#a488f0" opacity="0.14"/>
<circle cx="410.8" cy="282.7" r="2.1" fill="#a488f0" opacity="0.32"/>
<circle cx="448.0" cy="374.2" r="0.9" fill="#a488f0" opacity="0.16"/>
<circle cx="161.3" cy="163.2" r="1.3" fill="#a488f0" opacity="0.34"/>
<circle cx="740.1" cy="43.7" r="1.3" fill="#a488f0" opacity="0.20"/>
<circle cx="129.8" cy="372.9" r="1.3" fill="#a488f0" opacity="0.13"/>
<circle cx="511.8" cy="198.1" r="1.8" fill="#a488f0" opacity="0.18"/>
<circle cx="112.1" cy="0.9" r="1.8" fill="#a488f0" opacity="0.17"/>
<circle cx="288.1" cy="18.2" r="1.5" fill="#a488f0" opacity="0.15"/>
<circle cx="457.1" cy="61.9" r="1.1" fill="#a488f0" opacity="0.23"/>
<circle cx="184.3" cy="78.7" r="1.8" fill="#a488f0" opacity="0.12"/>
<circle cx="69.9" cy="272.6" r="1.5" fill="#a488f0" opacity="0.28"/>
<circle cx="140.3" cy="61.4" r="2.1" fill="#a488f0" opacity="0.27"/>
<circle cx="649.3" cy="261.2" r="1.1" fill="#a488f0" opacity="0.10"/>
<circle cx="553.8" cy="232.8" r="2.1" fill="#a488f0" opacity="0.32"/>
<circle cx="414.8" cy="155.7" r="1.3" fill="#a488f0" opacity="0.30"/>
<circle cx="691.6" cy="220.9" r="0.9" fill="#a488f0" opacity="0.20"/>
<circle cx="610.4" cy="59.7" r="2.1" fill="#a488f0" opacity="0.16"/>
<circle cx="148.8" cy="372.6" r="1.3" fill="#a488f0" opacity="0.11"/>
<circle cx="561.8" cy="257.6" r="0.9" fill="#a488f0" opacity="0.19"/>
<circle cx="745.7" cy="434.0" r="0.9" fill="#a488f0" opacity="0.13"/>
<circle cx="571.7" cy="365.8" r="1.3" fill="#a488f0" opacity="0.29"/>
<circle cx="694.5" cy="258.2" r="0.9" fill="#a488f0" opacity="0.17"/>
</g>
<path d="M133.09,115C133.04,110.03 137.03,105.83 141.99,105.62L243.01,101.38C247.97,101.17 252.02,105.03 252.04,110L252.46,193.5C252.48,198.47 248.47,202.67 243.51,202.88L142.99,207.12C138.03,207.33 133.96,203.47 133.91,198.5Z" fill="#8a92e6" transform="translate(-10 -8.5)"/><path d="M133.09,115C133.04,110.03 137.03,105.83 141.99,105.62L243.01,101.38C247.97,101.17 252.02,105.03 252.04,110L252.46,193.5C252.48,198.47 248.47,202.67 243.51,202.88L142.99,207.12C138.03,207.33 133.96,203.47 133.91,198.5Z" fill="#8d95e8" transform="translate(-9 -7.65)"/><path d="M133.09,115C133.04,110.03 137.03,105.83 141.99,105.62L243.01,101.38C247.97,101.17 252.02,105.03 252.04,110L252.46,193.5C252.48,198.47 248.47,202.67 243.51,202.88L142.99,207.12C138.03,207.33 133.96,203.47 133.91,198.5Z" fill="#9098e9" transform="translate(-8 -6.8)"/><path d="M133.09,115C133.04,110.03 137.03,105.83 141.99,105.62L243.01,101.38C247.97,101.17 252.02,105.03 252.04,110L252.46,193.5C252.48,198.47 248.47,202.67 243.51,202.88L142.99,207.12C138.03,207.33 133.96,203.47 133.91,198.5Z" fill="#949ceb" transform="translate(-7 -5.95)"/><path d="M133.09,115C133.04,110.03 137.03,105.83 141.99,105.62L243.01,101.38C247.97,101.17 252.02,105.03 252.04,110L252.46,193.5C252.48,198.47 248.47,202.67 243.51,202.88L142.99,207.12C138.03,207.33 133.96,203.47 133.91,198.5Z" fill="#979fec" transform="translate(-6 -5.1)"/><path d="M133.09,115C133.04,110.03 137.03,105.83 141.99,105.62L243.01,101.38C247.97,101.17 252.02,105.03 252.04,110L252.46,193.5C252.48,198.47 248.47,202.67 243.51,202.88L142.99,207.12C138.03,207.33 133.96,203.47 133.91,198.5Z" fill="#9aa2ee" transform="translate(-5 -4.25)"/><path d="M133.09,115C133.04,110.03 137.03,105.83 141.99,105.62L243.01,101.38C247.97,101.17 252.02,105.03 252.04,110L252.46,193.5C252.48,198.47 248.47,202.67 243.51,202.88L142.99,207.12C138.03,207.33 133.96,203.47 133.91,198.5Z" fill="#9da5f0" transform="translate(-4 -3.4)"/><path d="M133.09,115C133.04,110.03 137.03,105.83 141.99,105.62L243.01,101.38C247.97,101.17 252.02,105.03 252.04,110L252.46,193.5C252.48,198.47 248.47,202.67 243.51,202.88L142.99,207.12C138.03,207.33 133.96,203.47 133.91,198.5Z" fill="#a0a8f1" transform="translate(-3 -2.55)"/><path d="M133.09,115C133.04,110.03 137.03,105.83 141.99,105.62L243.01,101.38C247.97,101.17 252.02,105.03 252.04,110L252.46,193.5C252.48,198.47 248.47,202.67 243.51,202.88L142.99,207.12C138.03,207.33 133.96,203.47 133.91,198.5Z" fill="#a4acf3" transform="translate(-2 -1.7)"/><path d="M133.09,115C133.04,110.03 137.03,105.83 141.99,105.62L243.01,101.38C247.97,101.17 252.02,105.03 252.04,110L252.46,193.5C252.48,198.47 248.47,202.67 243.51,202.88L142.99,207.12C138.03,207.33 133.96,203.47 133.91,198.5Z" fill="#a7aff4" transform="translate(-1 -0.85)"/>
<clipPath id="lwHclip"><path d="M100,60 L300,60 L300,119.4 L100,130.3 Z"/></clipPath>
<g clip-path="url(#lwHclip)"><path d="M133.09,115C133.04,110.03 137.03,105.83 141.99,105.62L243.01,101.38C247.97,101.17 252.02,105.03 252.04,110L252.46,193.5C252.48,198.47 248.47,202.67 243.51,202.88L142.99,207.12C138.03,207.33 133.96,203.47 133.91,198.5Z" fill="#4a56dc" transform="translate(-10 -8.5)"/><path d="M133.09,115C133.04,110.03 137.03,105.83 141.99,105.62L243.01,101.38C247.97,101.17 252.02,105.03 252.04,110L252.46,193.5C252.48,198.47 248.47,202.67 243.51,202.88L142.99,207.12C138.03,207.33 133.96,203.47 133.91,198.5Z" fill="#4c58de" transform="translate(-9 -7.65)"/><path d="M133.09,115C133.04,110.03 137.03,105.83 141.99,105.62L243.01,101.38C247.97,101.17 252.02,105.03 252.04,110L252.46,193.5C252.48,198.47 248.47,202.67 243.51,202.88L142.99,207.12C138.03,207.33 133.96,203.47 133.91,198.5Z" fill="#4e5ae0" transform="translate(-8 -6.8)"/><path d="M133.09,115C133.04,110.03 137.03,105.83 141.99,105.62L243.01,101.38C247.97,101.17 252.02,105.03 252.04,110L252.46,193.5C252.48,198.47 248.47,202.67 243.51,202.88L142.99,207.12C138.03,207.33 133.96,203.47 133.91,198.5Z" fill="#4f5de3" transform="translate(-7 -5.95)"/><path d="M133.09,115C133.04,110.03 137.03,105.83 141.99,105.62L243.01,101.38C247.97,101.17 252.02,105.03 252.04,110L252.46,193.5C252.48,198.47 248.47,202.67 243.51,202.88L142.99,207.12C138.03,207.33 133.96,203.47 133.91,198.5Z" fill="#515fe5" transform="translate(-6 -5.1)"/><path d="M133.09,115C133.04,110.03 137.03,105.83 141.99,105.62L243.01,101.38C247.97,101.17 252.02,105.03 252.04,110L252.46,193.5C252.48,198.47 248.47,202.67 243.51,202.88L142.99,207.12C138.03,207.33 133.96,203.47 133.91,198.5Z" fill="#5361e7" transform="translate(-5 -4.25)"/><path d="M133.09,115C133.04,110.03 137.03,105.83 141.99,105.62L243.01,101.38C247.97,101.17 252.02,105.03 252.04,110L252.46,193.5C252.48,198.47 248.47,202.67 243.51,202.88L142.99,207.12C138.03,207.33 133.96,203.47 133.91,198.5Z" fill="#5563e9" transform="translate(-4 -3.4)"/><path d="M133.09,115C133.04,110.03 137.03,105.83 141.99,105.62L243.01,101.38C247.97,101.17 252.02,105.03 252.04,110L252.46,193.5C252.48,198.47 248.47,202.67 243.51,202.88L142.99,207.12C138.03,207.33 133.96,203.47 133.91,198.5Z" fill="#5765eb" transform="translate(-3 -2.55)"/><path d="M133.09,115C133.04,110.03 137.03,105.83 141.99,105.62L243.01,101.38C247.97,101.17 252.02,105.03 252.04,110L252.46,193.5C252.48,198.47 248.47,202.67 243.51,202.88L142.99,207.12C138.03,207.33 133.96,203.47 133.91,198.5Z" fill="#5868ee" transform="translate(-2 -1.7)"/><path d="M133.09,115C133.04,110.03 137.03,105.83 141.99,105.62L243.01,101.38C247.97,101.17 252.02,105.03 252.04,110L252.46,193.5C252.48,198.47 248.47,202.67 243.51,202.88L142.99,207.12C138.03,207.33 133.96,203.47 133.91,198.5Z" fill="#5a6af0" transform="translate(-1 -0.85)"/></g>
<path d="M133.09,115C133.04,110.03 137.03,105.83 141.99,105.62L243.01,101.38C247.97,101.17 252.02,105.03 252.04,110L252.46,193.5C252.48,198.47 248.47,202.67 243.51,202.88L142.99,207.12C138.03,207.33 133.96,203.47 133.91,198.5Z" fill="url(#lwBody)"/>
<path d="M133.09,115C133.04,110.03 137.03,105.83 141.99,105.62L243.01,101.38C247.97,101.17 252.02,105.03 252.04,110L252.46,193.5C252.48,198.47 248.47,202.67 243.51,202.88L142.99,207.12C138.03,207.33 133.96,203.47 133.91,198.5Z" fill="url(#lwHead)" clip-path="url(#lwHclip)"/>
<path d="M138,105.6 L247,101.2" stroke="#7a84f2" stroke-width="1.2" fill="none" opacity="0.9"/>
<circle cx="151.8" cy="117.1" r="2.8" fill="url(#dotO)"/><circle cx="161.2" cy="116.5" r="2.8" fill="url(#dotY)"/><circle cx="169.9" cy="116" r="2.8" fill="url(#dotG)"/>
<path d="M151.55,146C151.52,144.34 152.84,142.95 154.5,142.89L203,141.11C204.66,141.05 206.02,142.34 206.05,144L206.45,167.5C206.48,169.16 205.16,170.54 203.5,170.58L155,171.92C153.34,171.96 151.98,170.66 151.95,169Z" fill="#5a66dc"/>
<path d="M151,185.8C151,184.25 152.25,182.96 153.8,182.9L204.2,181.1C205.75,181.04 207,182.25 207,183.8L207,184.2C207,185.75 205.75,187.04 204.2,187.1L153.8,188.9C152.25,188.96 151,187.75 151,186.2Z" fill="#5a66dc"/>
<path d="M235.5,166.6A18.2,18.2 0 1 1 271.9,166.6A18.2,18.2 0 1 1 235.5,166.6Z" fill="#4442c8" transform="translate(-9 -4)"/><path d="M235.5,166.6A18.2,18.2 0 1 1 271.9,166.6A18.2,18.2 0 1 1 235.5,166.6Z" fill="#4745cb" transform="translate(-8.1 -3.6)"/><path d="M235.5,166.6A18.2,18.2 0 1 1 271.9,166.6A18.2,18.2 0 1 1 235.5,166.6Z" fill="#4947cd" transform="translate(-7.2 -3.2)"/><path d="M235.5,166.6A18.2,18.2 0 1 1 271.9,166.6A18.2,18.2 0 1 1 235.5,166.6Z" fill="#4c4ad0" transform="translate(-6.3 -2.8)"/><path d="M235.5,166.6A18.2,18.2 0 1 1 271.9,166.6A18.2,18.2 0 1 1 235.5,166.6Z" fill="#4e4cd2" transform="translate(-5.4 -2.4)"/><path d="M235.5,166.6A18.2,18.2 0 1 1 271.9,166.6A18.2,18.2 0 1 1 235.5,166.6Z" fill="#514fd5" transform="translate(-4.5 -2)"/><path d="M235.5,166.6A18.2,18.2 0 1 1 271.9,166.6A18.2,18.2 0 1 1 235.5,166.6Z" fill="#5452d8" transform="translate(-3.6 -1.6)"/><path d="M235.5,166.6A18.2,18.2 0 1 1 271.9,166.6A18.2,18.2 0 1 1 235.5,166.6Z" fill="#5654da" transform="translate(-2.7 -1.2)"/><path d="M235.5,166.6A18.2,18.2 0 1 1 271.9,166.6A18.2,18.2 0 1 1 235.5,166.6Z" fill="#5957dd" transform="translate(-1.8 -0.8)"/><path d="M235.5,166.6A18.2,18.2 0 1 1 271.9,166.6A18.2,18.2 0 1 1 235.5,166.6Z" fill="#5b59df" transform="translate(-0.9 -0.4)"/>
<path d="M235.5,166.6A18.2,18.2 0 1 1 271.9,166.6A18.2,18.2 0 1 1 235.5,166.6Z" fill="url(#bhead)"/>
<path d="M221,213.5 C221,198 236,187.8 254,187.8 C272,187.8 288,197.5 288,209 C288,214.5 285.5,217.3 281,217.8 L230,224.4 C224.5,225 221,220.5 221,213.5 Z" fill="#3a34b8" transform="translate(-8 -3)"/><path d="M221,213.5 C221,198 236,187.8 254,187.8 C272,187.8 288,197.5 288,209 C288,214.5 285.5,217.3 281,217.8 L230,224.4 C224.5,225 221,220.5 221,213.5 Z" fill="#3c36bb" transform="translate(-7.2 -2.7)"/><path d="M221,213.5 C221,198 236,187.8 254,187.8 C272,187.8 288,197.5 288,209 C288,214.5 285.5,217.3 281,217.8 L230,224.4 C224.5,225 221,220.5 221,213.5 Z" fill="#3e38be" transform="translate(-6.4 -2.4)"/><path d="M221,213.5 C221,198 236,187.8 254,187.8 C272,187.8 288,197.5 288,209 C288,214.5 285.5,217.3 281,217.8 L230,224.4 C224.5,225 221,220.5 221,213.5 Z" fill="#403ac2" transform="translate(-5.6 -2.1)"/><path d="M221,213.5 C221,198 236,187.8 254,187.8 C272,187.8 288,197.5 288,209 C288,214.5 285.5,217.3 281,217.8 L230,224.4 C224.5,225 221,220.5 221,213.5 Z" fill="#423cc5" transform="translate(-4.8 -1.8)"/><path d="M221,213.5 C221,198 236,187.8 254,187.8 C272,187.8 288,197.5 288,209 C288,214.5 285.5,217.3 281,217.8 L230,224.4 C224.5,225 221,220.5 221,213.5 Z" fill="#443ec8" transform="translate(-4 -1.5)"/><path d="M221,213.5 C221,198 236,187.8 254,187.8 C272,187.8 288,197.5 288,209 C288,214.5 285.5,217.3 281,217.8 L230,224.4 C224.5,225 221,220.5 221,213.5 Z" fill="#4640cb" transform="translate(-3.2 -1.2)"/><path d="M221,213.5 C221,198 236,187.8 254,187.8 C272,187.8 288,197.5 288,209 C288,214.5 285.5,217.3 281,217.8 L230,224.4 C224.5,225 221,220.5 221,213.5 Z" fill="#4842ce" transform="translate(-2.4 -0.9)"/><path d="M221,213.5 C221,198 236,187.8 254,187.8 C272,187.8 288,197.5 288,209 C288,214.5 285.5,217.3 281,217.8 L230,224.4 C224.5,225 221,220.5 221,213.5 Z" fill="#4a44d2" transform="translate(-1.6 -0.6)"/><path d="M221,213.5 C221,198 236,187.8 254,187.8 C272,187.8 288,197.5 288,209 C288,214.5 285.5,217.3 281,217.8 L230,224.4 C224.5,225 221,220.5 221,213.5 Z" fill="#4c46d5" transform="translate(-0.8 -0.3)"/>
<path d="M221,213.5 C221,198 236,187.8 254,187.8 C272,187.8 288,197.5 288,209 C288,214.5 285.5,217.3 281,217.8 L230,224.4 C224.5,225 221,220.5 221,213.5 Z" fill="url(#bbody)"/>
<g transform="rotate(-3.2 294 142.9)"><rect x="274.0" y="138.8" width="40" height="8.2" rx="1.2" fill="#c0a2ec"/><rect x="277.5" y="138.8" width="36.5" height="8.2" rx="1.2" fill="#e4d0fb"/><rect x="277.5" y="138.8" width="36.5" height="2.4" rx="1" fill="#f0e2fd"/></g>
<path d="M337.08,88.5C337.04,82.43 341.92,77.29 347.99,77.03L470.01,71.87C476.08,71.61 480.87,76.33 480.71,82.4L477.79,192C477.63,198.07 472.58,203.3 466.52,203.67L348.98,210.83C342.92,211.2 337.96,206.57 337.92,200.5Z" fill="#b090e4" transform="translate(-11 -8.5)"/><path d="M337.08,88.5C337.04,82.43 341.92,77.29 347.99,77.03L470.01,71.87C476.08,71.61 480.87,76.33 480.71,82.4L477.79,192C477.63,198.07 472.58,203.3 466.52,203.67L348.98,210.83C342.92,211.2 337.96,206.57 337.92,200.5Z" fill="#b495e6" transform="translate(-10 -7.73)"/><path d="M337.08,88.5C337.04,82.43 341.92,77.29 347.99,77.03L470.01,71.87C476.08,71.61 480.87,76.33 480.71,82.4L477.79,192C477.63,198.07 472.58,203.3 466.52,203.67L348.98,210.83C342.92,211.2 337.96,206.57 337.92,200.5Z" fill="#b89ae8" transform="translate(-9 -6.95)"/><path d="M337.08,88.5C337.04,82.43 341.92,77.29 347.99,77.03L470.01,71.87C476.08,71.61 480.87,76.33 480.71,82.4L477.79,192C477.63,198.07 472.58,203.3 466.52,203.67L348.98,210.83C342.92,211.2 337.96,206.57 337.92,200.5Z" fill="#bc9fe9" transform="translate(-8 -6.18)"/><path d="M337.08,88.5C337.04,82.43 341.92,77.29 347.99,77.03L470.01,71.87C476.08,71.61 480.87,76.33 480.71,82.4L477.79,192C477.63,198.07 472.58,203.3 466.52,203.67L348.98,210.83C342.92,211.2 337.96,206.57 337.92,200.5Z" fill="#c0a4eb" transform="translate(-7 -5.41)"/><path d="M337.08,88.5C337.04,82.43 341.92,77.29 347.99,77.03L470.01,71.87C476.08,71.61 480.87,76.33 480.71,82.4L477.79,192C477.63,198.07 472.58,203.3 466.52,203.67L348.98,210.83C342.92,211.2 337.96,206.57 337.92,200.5Z" fill="#c4a9ed" transform="translate(-6 -4.64)"/><path d="M337.08,88.5C337.04,82.43 341.92,77.29 347.99,77.03L470.01,71.87C476.08,71.61 480.87,76.33 480.71,82.4L477.79,192C477.63,198.07 472.58,203.3 466.52,203.67L348.98,210.83C342.92,211.2 337.96,206.57 337.92,200.5Z" fill="#c8adef" transform="translate(-5 -3.86)"/><path d="M337.08,88.5C337.04,82.43 341.92,77.29 347.99,77.03L470.01,71.87C476.08,71.61 480.87,76.33 480.71,82.4L477.79,192C477.63,198.07 472.58,203.3 466.52,203.67L348.98,210.83C342.92,211.2 337.96,206.57 337.92,200.5Z" fill="#ccb2f1" transform="translate(-4 -3.09)"/><path d="M337.08,88.5C337.04,82.43 341.92,77.29 347.99,77.03L470.01,71.87C476.08,71.61 480.87,76.33 480.71,82.4L477.79,192C477.63,198.07 472.58,203.3 466.52,203.67L348.98,210.83C342.92,211.2 337.96,206.57 337.92,200.5Z" fill="#d0b7f3" transform="translate(-3 -2.32)"/><path d="M337.08,88.5C337.04,82.43 341.92,77.29 347.99,77.03L470.01,71.87C476.08,71.61 480.87,76.33 480.71,82.4L477.79,192C477.63,198.07 472.58,203.3 466.52,203.67L348.98,210.83C342.92,211.2 337.96,206.57 337.92,200.5Z" fill="#d4bcf4" transform="translate(-2 -1.55)"/><path d="M337.08,88.5C337.04,82.43 341.92,77.29 347.99,77.03L470.01,71.87C476.08,71.61 480.87,76.33 480.71,82.4L477.79,192C477.63,198.07 472.58,203.3 466.52,203.67L348.98,210.83C342.92,211.2 337.96,206.57 337.92,200.5Z" fill="#d8c1f6" transform="translate(-1 -0.77)"/>
<clipPath id="mwHclip"><path d="M300,30 L520,30 L520,100.3 L300,105.8 Z"/></clipPath>
<g clip-path="url(#mwHclip)"><path d="M337.08,88.5C337.04,82.43 341.92,77.29 347.99,77.03L470.01,71.87C476.08,71.61 480.87,76.33 480.71,82.4L477.79,192C477.63,198.07 472.58,203.3 466.52,203.67L348.98,210.83C342.92,211.2 337.96,206.57 337.92,200.5Z" fill="#6a24b8" transform="translate(-11 -8.5)"/><path d="M337.08,88.5C337.04,82.43 341.92,77.29 347.99,77.03L470.01,71.87C476.08,71.61 480.87,76.33 480.71,82.4L477.79,192C477.63,198.07 472.58,203.3 466.52,203.67L348.98,210.83C342.92,211.2 337.96,206.57 337.92,200.5Z" fill="#6f28bc" transform="translate(-10 -7.73)"/><path d="M337.08,88.5C337.04,82.43 341.92,77.29 347.99,77.03L470.01,71.87C476.08,71.61 480.87,76.33 480.71,82.4L477.79,192C477.63,198.07 472.58,203.3 466.52,203.67L348.98,210.83C342.92,211.2 337.96,206.57 337.92,200.5Z" fill="#742cc1" transform="translate(-9 -6.95)"/><path d="M337.08,88.5C337.04,82.43 341.92,77.29 347.99,77.03L470.01,71.87C476.08,71.61 480.87,76.33 480.71,82.4L477.79,192C477.63,198.07 472.58,203.3 466.52,203.67L348.98,210.83C342.92,211.2 337.96,206.57 337.92,200.5Z" fill="#7930c5" transform="translate(-8 -6.18)"/><path d="M337.08,88.5C337.04,82.43 341.92,77.29 347.99,77.03L470.01,71.87C476.08,71.61 480.87,76.33 480.71,82.4L477.79,192C477.63,198.07 472.58,203.3 466.52,203.67L348.98,210.83C342.92,211.2 337.96,206.57 337.92,200.5Z" fill="#7e34c9" transform="translate(-7 -5.41)"/><path d="M337.08,88.5C337.04,82.43 341.92,77.29 347.99,77.03L470.01,71.87C476.08,71.61 480.87,76.33 480.71,82.4L477.79,192C477.63,198.07 472.58,203.3 466.52,203.67L348.98,210.83C342.92,211.2 337.96,206.57 337.92,200.5Z" fill="#8338ce" transform="translate(-6 -4.64)"/><path d="M337.08,88.5C337.04,82.43 341.92,77.29 347.99,77.03L470.01,71.87C476.08,71.61 480.87,76.33 480.71,82.4L477.79,192C477.63,198.07 472.58,203.3 466.52,203.67L348.98,210.83C342.92,211.2 337.96,206.57 337.92,200.5Z" fill="#873cd2" transform="translate(-5 -3.86)"/><path d="M337.08,88.5C337.04,82.43 341.92,77.29 347.99,77.03L470.01,71.87C476.08,71.61 480.87,76.33 480.71,82.4L477.79,192C477.63,198.07 472.58,203.3 466.52,203.67L348.98,210.83C342.92,211.2 337.96,206.57 337.92,200.5Z" fill="#8c40d7" transform="translate(-4 -3.09)"/><path d="M337.08,88.5C337.04,82.43 341.92,77.29 347.99,77.03L470.01,71.87C476.08,71.61 480.87,76.33 480.71,82.4L477.79,192C477.63,198.07 472.58,203.3 466.52,203.67L348.98,210.83C342.92,211.2 337.96,206.57 337.92,200.5Z" fill="#9144db" transform="translate(-3 -2.32)"/><path d="M337.08,88.5C337.04,82.43 341.92,77.29 347.99,77.03L470.01,71.87C476.08,71.61 480.87,76.33 480.71,82.4L477.79,192C477.63,198.07 472.58,203.3 466.52,203.67L348.98,210.83C342.92,211.2 337.96,206.57 337.92,200.5Z" fill="#9648df" transform="translate(-2 -1.55)"/><path d="M337.08,88.5C337.04,82.43 341.92,77.29 347.99,77.03L470.01,71.87C476.08,71.61 480.87,76.33 480.71,82.4L477.79,192C477.63,198.07 472.58,203.3 466.52,203.67L348.98,210.83C342.92,211.2 337.96,206.57 337.92,200.5Z" fill="#9b4ce4" transform="translate(-1 -0.77)"/></g>
<path d="M337.08,88.5C337.04,82.43 341.92,77.29 347.99,77.03L470.01,71.87C476.08,71.61 480.87,76.33 480.71,82.4L477.79,192C477.63,198.07 472.58,203.3 466.52,203.67L348.98,210.83C342.92,211.2 337.96,206.57 337.92,200.5Z" fill="url(#mwBody)"/>
<path d="M337.08,88.5C337.04,82.43 341.92,77.29 347.99,77.03L470.01,71.87C476.08,71.61 480.87,76.33 480.71,82.4L477.79,192C477.63,198.07 472.58,203.3 466.52,203.67L348.98,210.83C342.92,211.2 337.96,206.57 337.92,200.5Z" fill="url(#mwHead)" clip-path="url(#mwHclip)"/>
<path d="M344,77 L472,71.6" stroke="#b068f2" stroke-width="1.4" fill="none" opacity="0.9"/>
<circle cx="356.2" cy="89.9" r="3.1" fill="url(#dotO)"/><circle cx="365.8" cy="89.5" r="3.1" fill="url(#dotY)"/><circle cx="375.8" cy="88.8" r="3.1" fill="url(#dotG)"/>
<path d="M350.04,119.5C350.02,117.84 351.34,116.45 353,116.39L400,114.61C401.66,114.55 403,115.84 403,117.5L403,145.5C403,147.16 401.66,148.55 400,148.61L353.5,150.39C351.84,150.45 350.48,149.16 350.46,147.5Z" fill="#c592f2"/>
<path d="M415,119.7C415,118.21 416.21,116.96 417.7,116.91L466.3,115.29C467.79,115.24 469,116.41 469,117.9L469,118.1C469,119.59 467.79,120.84 466.3,120.89L417.7,122.51C416.21,122.56 415,121.39 415,119.9Z" fill="#c88ef2"/>
<path d="M415,134.1C415,132.61 416.21,131.36 417.7,131.31L465.3,129.69C466.79,129.64 468,130.81 468,132.3L468,132.5C468,133.99 466.79,135.24 465.3,135.29L417.7,136.91C416.21,136.96 415,135.79 415,134.3Z" fill="#c88ef2"/>
<path d="M415,148.9C415,147.41 416.21,146.16 417.7,146.11L464.3,144.49C465.79,144.44 467,145.61 467,147.1L467,147.3C467,148.79 465.79,150.04 464.3,150.09L417.7,151.71C416.21,151.76 415,150.59 415,149.1Z" fill="#c88ef2"/>
<path d="M414,164.7C414,163.21 415.21,161.96 416.7,161.91L463.3,160.29C464.79,160.24 466,161.41 466,162.9L466,163.1C466,164.59 464.79,165.84 463.3,165.89L416.7,167.51C415.21,167.56 414,166.39 414,164.9Z" fill="#c88ef2"/>
<path d="M350,166.9C350,165.3 351.3,163.95 352.9,163.89L398.6,162.11C400.2,162.05 401.5,163.3 401.5,164.9L401.5,165.1C401.5,166.7 400.2,168.05 398.6,168.11L352.9,169.89C351.3,169.95 350,168.7 350,167.1Z" fill="#c88ef2"/>
<path d="M349,182.5C349,180.9 350.3,179.55 351.9,179.5L397.1,177.9C398.7,177.85 400,179.1 400,180.7L400,180.9C400,182.5 398.7,183.85 397.1,183.9L351.9,185.5C350.3,185.55 349,184.3 349,182.7Z" fill="#c88ef2"/>
<g transform="rotate(-4.1 514.2 127.1)"><rect x="492.70000000000005" y="123.0" width="43" height="8.2" rx="1.2" fill="#c0a2ec"/><rect x="496.20000000000005" y="123.0" width="39.5" height="8.2" rx="1.2" fill="#e4d0fb"/><rect x="496.20000000000005" y="123.0" width="39.5" height="2.4" rx="1" fill="#f0e2fd"/></g>
<path d="M574.8,96A20.5,20.5 0 1 1 615.8,96A20.5,20.5 0 1 1 574.8,96Z" fill="#4696b8" transform="translate(-10 -4)"/><path d="M574.8,96A20.5,20.5 0 1 1 615.8,96A20.5,20.5 0 1 1 574.8,96Z" fill="#4899ba" transform="translate(-9 -3.6)"/><path d="M574.8,96A20.5,20.5 0 1 1 615.8,96A20.5,20.5 0 1 1 574.8,96Z" fill="#4b9bbd" transform="translate(-8 -3.2)"/><path d="M574.8,96A20.5,20.5 0 1 1 615.8,96A20.5,20.5 0 1 1 574.8,96Z" fill="#4d9ebf" transform="translate(-7 -2.8)"/><path d="M574.8,96A20.5,20.5 0 1 1 615.8,96A20.5,20.5 0 1 1 574.8,96Z" fill="#50a0c2" transform="translate(-6 -2.4)"/><path d="M574.8,96A20.5,20.5 0 1 1 615.8,96A20.5,20.5 0 1 1 574.8,96Z" fill="#52a3c4" transform="translate(-5 -2)"/><path d="M574.8,96A20.5,20.5 0 1 1 615.8,96A20.5,20.5 0 1 1 574.8,96Z" fill="#54a6c6" transform="translate(-4 -1.6)"/><path d="M574.8,96A20.5,20.5 0 1 1 615.8,96A20.5,20.5 0 1 1 574.8,96Z" fill="#57a8c9" transform="translate(-3 -1.2)"/><path d="M574.8,96A20.5,20.5 0 1 1 615.8,96A20.5,20.5 0 1 1 574.8,96Z" fill="#59abcb" transform="translate(-2 -0.8)"/><path d="M574.8,96A20.5,20.5 0 1 1 615.8,96A20.5,20.5 0 1 1 574.8,96Z" fill="#5cadce" transform="translate(-1 -0.4)"/>
<path d="M574.8,96A20.5,20.5 0 1 1 615.8,96A20.5,20.5 0 1 1 574.8,96Z" fill="url(#thead)"/>
<path d="M553.5,157 C553.5,136 570,121 596,120.5 C622,120.5 644,134 646,152 L646,163.2 L563,168 C557,168.3 553.5,164 553.5,157 Z" fill="#3e92b6" transform="translate(-12 -3)"/><path d="M553.5,157 C553.5,136 570,121 596,120.5 C622,120.5 644,134 646,152 L646,163.2 L563,168 C557,168.3 553.5,164 553.5,157 Z" fill="#4094b8" transform="translate(-10.8 -2.7)"/><path d="M553.5,157 C553.5,136 570,121 596,120.5 C622,120.5 644,134 646,152 L646,163.2 L563,168 C557,168.3 553.5,164 553.5,157 Z" fill="#4397ba" transform="translate(-9.6 -2.4)"/><path d="M553.5,157 C553.5,136 570,121 596,120.5 C622,120.5 644,134 646,152 L646,163.2 L563,168 C557,168.3 553.5,164 553.5,157 Z" fill="#4599bd" transform="translate(-8.4 -2.1)"/><path d="M553.5,157 C553.5,136 570,121 596,120.5 C622,120.5 644,134 646,152 L646,163.2 L563,168 C557,168.3 553.5,164 553.5,157 Z" fill="#489cbf" transform="translate(-7.2 -1.8)"/><path d="M553.5,157 C553.5,136 570,121 596,120.5 C622,120.5 644,134 646,152 L646,163.2 L563,168 C557,168.3 553.5,164 553.5,157 Z" fill="#4a9ec1" transform="translate(-6 -1.5)"/><path d="M553.5,157 C553.5,136 570,121 596,120.5 C622,120.5 644,134 646,152 L646,163.2 L563,168 C557,168.3 553.5,164 553.5,157 Z" fill="#4ca0c3" transform="translate(-4.8 -1.2)"/><path d="M553.5,157 C553.5,136 570,121 596,120.5 C622,120.5 644,134 646,152 L646,163.2 L563,168 C557,168.3 553.5,164 553.5,157 Z" fill="#4fa3c5" transform="translate(-3.6 -0.9)"/><path d="M553.5,157 C553.5,136 570,121 596,120.5 C622,120.5 644,134 646,152 L646,163.2 L563,168 C557,168.3 553.5,164 553.5,157 Z" fill="#51a5c8" transform="translate(-2.4 -0.6)"/><path d="M553.5,157 C553.5,136 570,121 596,120.5 C622,120.5 644,134 646,152 L646,163.2 L563,168 C557,168.3 553.5,164 553.5,157 Z" fill="#54a8ca" transform="translate(-1.2 -0.3)"/>
<path d="M553.5,157 C553.5,136 570,121 596,120.5 C622,120.5 644,134 646,152 L646,163.2 L563,168 C557,168.3 553.5,164 553.5,157 Z" fill="url(#tbody)"/>
<rect x="612.8" y="104" width="64" height="60.6" rx="10" fill="url(#codeO)"/>
<path d="M625.58,120.5C625.53,116.08 629.08,112.29 633.49,112.03L673.81,109.68C675.46,109.58 676.8,110.84 676.79,112.5L676.63,154.8C676.61,159.77 672.57,163.86 667.6,163.94L629,164.55C627.34,164.58 625.99,163.26 625.97,161.6Z" fill="url(#code)"/>
<path d="M627,113.5 L672,110.8" stroke="#f4faff" stroke-width="1.2" opacity="0.8"/>
<g fill="none" stroke="#4e90b8" stroke-width="3" stroke-linecap="round" stroke-linejoin="round"><path d="M641.5,131.4 L633,140 L640,146.6"/><path d="M660.7,130 L668.3,136.8 L659.8,146"/><path d="M656.6,122.6 L644.2,154.3"/></g>
<g fill="none" stroke="#7ab4d4" stroke-width="1" stroke-linecap="round" stroke-linejoin="round" opacity="0.7"><path d="M641,130.6 L632.6,139.2"/><path d="M660.4,129.2 L667.8,135.8"/><path d="M656,122 L644,152.8"/></g>
<g transform="rotate(-5 200 253.8)"><rect x="149" y="241.05" width="97" height="30.5" rx="15.25" fill="#8e90e0"/><rect x="149.62" y="240.43" width="97" height="30.5" rx="15.25" fill="#8e90e0"/><rect x="150.25" y="239.8" width="97" height="30.5" rx="15.25" fill="#8e90e0"/><rect x="150.88" y="239.18" width="97" height="30.5" rx="15.25" fill="#8e90e0"/><rect x="151.5" y="238.55" width="97" height="30.5" rx="15.25" fill="#b8bcf8"/></g>
<text x="200.5" y="262.2" font-size="20" fill="#22265a" stroke="#22265a" stroke-width="0.45" text-anchor="middle" transform="rotate(-5 200 254.3)" letter-spacing="1">MVVM</text>
<g transform="rotate(-5 600.3 203.8)"><rect x="558.3" y="191.3" width="79" height="30" rx="15.0" fill="#98a6ea"/><rect x="558.92" y="190.68" width="79" height="30" rx="15.0" fill="#98a6ea"/><rect x="559.55" y="190.05" width="79" height="30" rx="15.0" fill="#98a6ea"/><rect x="560.17" y="189.43" width="79" height="30" rx="15.0" fill="#98a6ea"/><rect x="560.8" y="188.8" width="79" height="30" rx="15.0" fill="#c8d4fc"/></g>
<text x="600.8" y="211.6" font-size="18.5" fill="#2a4eb6" stroke="#2a4eb6" stroke-width="0.35" text-anchor="middle" transform="rotate(-5 600 204.5)" letter-spacing="0.5">MVU</text>
<g filter="url(#b04)"><rect x="403" y="217" width="9" height="37" rx="1" fill="#dcc4f6"/><rect x="403" y="217" width="2.4" height="37" fill="#a878ea"/><path d="M394.6,252.2 L416.6,252.2 L406.2,263.6 Z" fill="#dcc4f6" stroke="#dcc4f6" stroke-width="1" stroke-linejoin="round"/><path d="M394.6,252.2 L400,252.2 L406.2,263.6 Z" fill="#b890ee"/></g>
<path d="M373.78,274.72C375.56,271.29 380.13,268.33 383.99,268.11L441.01,264.94C445.42,264.7 449.73,268.01 450.62,272.33L451.19,275.08C451.64,277.25 451.94,280.79 451.88,283L451.25,303C451.11,307.42 447.42,311.2 443.01,311.45L378.99,315.05C374.58,315.3 370.83,311.92 370.63,307.51L369.68,287C369.58,284.79 370.32,281.41 371.34,279.45Z" fill="#f6d8c6"/>
<path d="M369.73,287.79C369.6,285.04 371.74,282.7 374.5,282.58L446.5,279.42C449.26,279.3 451.45,281.44 451.39,284.2L451,302C450.89,306.97 446.77,311.23 441.81,311.51L379.99,314.99C375.03,315.27 370.82,311.47 370.59,306.51Z" fill="url(#box)"/>
<path d="M373,283.2 L448,279.8" stroke="#fff2e4" stroke-width="1.8" fill="none" opacity="0.9" filter="url(#b04)"/>
<g transform="rotate(-8.2 419.85 355.66)"><rect x="280.55" y="333.66" width="272.6" height="46" rx="23.0" fill="#ae86e2"/><rect x="281.3" y="333.41" width="272.6" height="46" rx="23.0" fill="#ae86e2"/><rect x="282.05" y="333.16" width="272.6" height="46" rx="23.0" fill="#ae86e2"/><rect x="282.8" y="332.91" width="272.6" height="46" rx="23.0" fill="#ae86e2"/><rect x="283.55" y="332.66" width="272.6" height="46" rx="23.0" fill="url(#di)"/></g>
<g transform="rotate(-8.2 419.85 355.66)"><rect x="283.55" y="332.66" width="272.6" height="46" rx="23" fill="url(#diH)"/><path d="M298,335.4 Q308,333.6 320,333.6 L540,333.6" stroke="#f8e4ff" stroke-width="1.4" fill="none" opacity="0.7"/></g>
<text x="423" y="363.7" font-size="21.5" fill="#341c5c" stroke="#341c5c" stroke-width="0.15" text-anchor="middle" transform="rotate(-7.5 423 363.7)" letter-spacing="0.1">Dependency Injection</text>
<path d="M523.09,244.8C522.49,243.25 523.22,241.44 524.72,240.74L532.28,237.26C533.78,236.56 535.47,237.26 536.05,238.81L539.95,249.19C540.53,250.74 539.88,252.75 538.5,253.66L531.5,258.34C530.12,259.25 528.51,258.75 527.91,257.2Z" fill="#34288a"/>
<path d="M531,256 Q537,251 543,255 Q546,265 543,274 Q535,267 531,256 Z" fill="url(#flame)"/>
<path d="M516,266 Q522,262 528,266 Q530,272 528,278 Q520,274 516,266 Z" fill="url(#flame)"/>
<path d="M525,228 Q537,219 542,204" stroke="#6450d0" stroke-width="9.5" fill="none" stroke-linecap="round"/>
<path d="M524.5,225 Q535,216.5 539.8,204" stroke="#b0a2f4" stroke-width="3.2" fill="none" stroke-linecap="round" opacity="0.85"/>
<ellipse cx="528" cy="224" rx="6" ry="6.5" fill="#3c2c98"/>
<g fill="#6e5ad8"><rect x="537.5" y="198.5" width="15" height="8.5" rx="4" transform="rotate(-8 545 202.7)" fill="#6252cc"/><path d="M538,199.5 Q536.5,190 541,187 L553.5,186 Q557.5,190 555,199.5 Z"/><rect x="531.5" y="186.5" width="10" height="4.8" rx="2.4" transform="rotate(25 536 189)"/><rect x="540.8" y="176.5" width="4.6" height="14" rx="2.3" transform="rotate(-6 543 183)"/><rect x="546.8" y="175.5" width="4.6" height="14" rx="2.3" transform="rotate(4 549 182)"/><rect x="552.3" y="178.5" width="4.6" height="12" rx="2.3" transform="rotate(14 554.5 184)"/></g>
<path d="M542,178.5 L542,186 M548,177.5 L548,185 M541,191 Q546,189 551,190" stroke="#a898f2" stroke-width="1.3" stroke-linecap="round" fill="none" opacity="0.7"/>
<path d="M507,264 Q511,279 519,291" stroke="#6a58d4" stroke-width="8.5" fill="none" stroke-linecap="round"/>
<path d="M524,261 Q528,272 536,282" stroke="#6a58d4" stroke-width="8.5" fill="none" stroke-linecap="round"/>
<path d="M506,267 Q509.5,279 516.5,289 M523,263 Q526.5,272 533,280" stroke="#9a88ee" stroke-width="2.2" fill="none" stroke-linecap="round" opacity="0.75"/>
<path d="M517.08,289.96C516.76,287.77 518.24,285.57 520.38,285.03L524.62,283.97C526.76,283.43 529.18,284.66 530.02,286.7L533.22,294.45C534.48,297.51 534.36,302.43 532.95,305.43L533.63,303.98C532.45,306.47 529.29,308.13 526.57,307.68L525.42,307.49C522.15,306.94 519.11,303.84 518.63,300.56Z" fill="url(#rball)"/>
<path d="M533.3,282.92C532.86,280.76 534.26,278.65 536.42,278.22L541.08,277.28C543.24,276.85 545.82,278.09 546.83,280.05L550.25,286.67C551.77,289.61 551.68,294.34 550.06,297.23L550.95,295.64C549.6,298.05 546.28,299.72 543.54,299.38L542.45,299.24C539.17,298.83 535.96,295.87 535.29,292.62Z" fill="url(#rball)"/>
<path d="M517,287.5 Q523,284 529,284.5 M533,280.5 Q539,277 545,277.5" stroke="#a898f2" stroke-width="1.6" fill="none" stroke-linecap="round" opacity="0.7"/>
<path d="M472,247 Q463,255 452,252.5" stroke="#6450d0" stroke-width="8.5" fill="none" stroke-linecap="round"/>
<path d="M471,244 Q462.5,251 453,249" stroke="#b4a6f4" stroke-width="2.8" fill="none" stroke-linecap="round" opacity="0.85"/>
<path d="M436.37,248.44C435.89,244.89 438.38,241.58 441.93,241.05L447.06,240.3C450.06,239.86 453.1,241.89 453.83,244.84L455.17,250.16C455.9,253.11 454.84,257.32 452.8,259.57L455.2,256.93C453.16,259.18 449.04,260.91 446,260.8L444.5,260.74C440.91,260.61 437.61,257.61 437.13,254.06Z" fill="url(#rball)"/>
<path d="M440,247 L450,245.5 M440,252 L451,250.5" stroke="#b0a2f4" stroke-width="1.3" stroke-linecap="round" opacity="0.6"/>
<path d="M485,205 L488.5,212" stroke="#5644c4" stroke-width="2.6"/><circle cx="484" cy="202" r="4.2" fill="url(#rball)"/>
<circle cx="498.5" cy="237.5" r="30" fill="url(#rhead)"/>
<path d="M522,222 A29,29 0 0 1 518,259" stroke="#8e7cec" stroke-width="1.5" fill="none" opacity="0.6"/>
<g transform="rotate(-16.3 498.2 237.1)"><rect x="473.7" y="227" width="49" height="19.6" rx="8.5" fill="#3e2c98"/><path d="M476.2,236 Q476.2,229.9 482.2,229.9 L514.2,229.9 Q520.2,229.9 520.2,236 L520.2,238.3 Q520.2,244.3 514.2,244.3 L503,244.3 L498.5,241.6 L494,244.3 L482.2,244.3 Q476.2,244.3 476.2,238.3 Z" fill="#f4f0ff"/></g>
<ellipse cx="488.3" cy="238.3" rx="1.8" ry="3.4" fill="#1c1848" transform="rotate(-12 488.3 238.3)"/><ellipse cx="503" cy="231.9" rx="1.8" ry="3.4" fill="#1c1848" transform="rotate(-12 503 231.9)"/>
<g transform="rotate(-15 502.4 251.5)"><rect x="495.6" y="248.2" width="13.6" height="6.6" rx="1.5" fill="#3050c0"/><text x="502.4" y="253.3" font-size="4.6" fill="#e8f0ff" text-anchor="middle">NET</text></g>
</g></svg></body></html>
